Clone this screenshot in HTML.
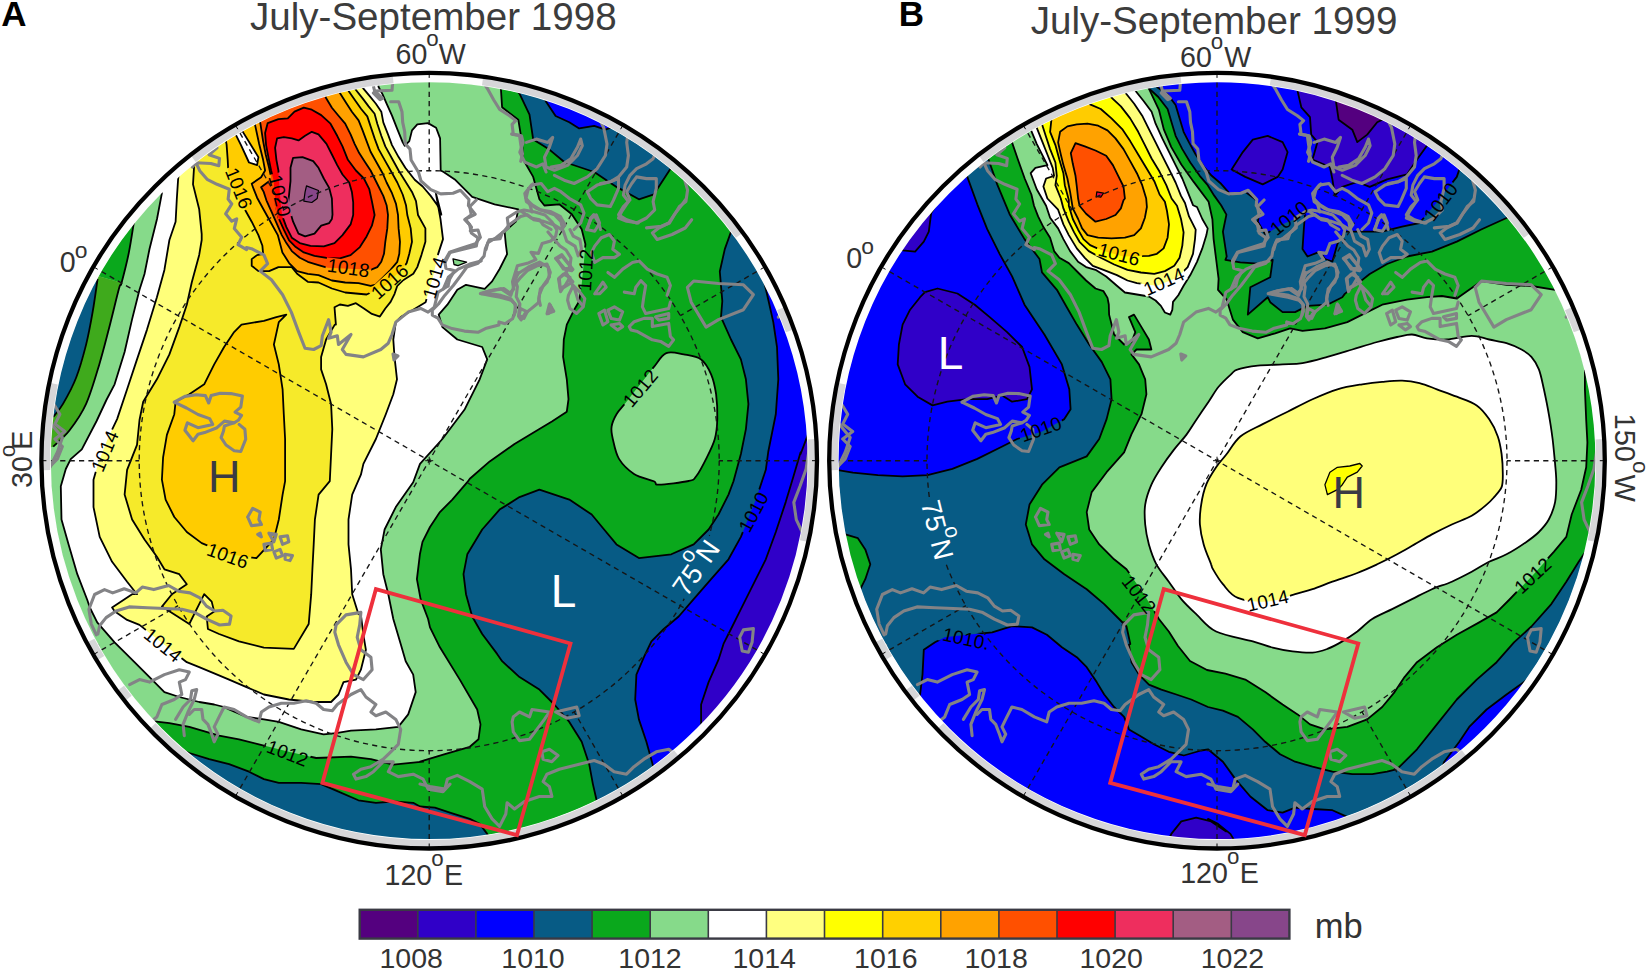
<!DOCTYPE html>
<html><head><meta charset="utf-8"><title>SLP July-September 1998 / 1999</title>
<style>html,body{margin:0;padding:0;background:#fff}svg{display:block}text{font-family:"Liberation Sans",Arial,Helvetica,sans-serif}</style></head><body>
<svg width="1650" height="973" viewBox="0 0 1650 973">
<defs>
<clipPath id="clipA"><circle cx="429.2" cy="460.7" r="379"/></clipPath>
<clipPath id="clipoA"><circle cx="429.2" cy="460.7" r="387.8"/></clipPath>
<clipPath id="clipB"><circle cx="1217" cy="460.7" r="379"/></clipPath>
<clipPath id="clipoB"><circle cx="1217" cy="460.7" r="387.8"/></clipPath>
</defs>
<rect width="1650" height="973" fill="#fff"/>
<mask id="mkA" maskUnits="userSpaceOnUse" x="29.2" y="60.7" width="800" height="800"><rect x="29.2" y="60.7" width="800" height="800" fill="#fff"/><g fill="#000">
<rect x="205.1" y="548.1" width="45.4" height="15" transform="rotate(20 227.8 555.6)"/>
<rect x="82" y="443.5" width="45.4" height="15" transform="rotate(-67 104.7 451)"/>
<rect x="140.4" y="637.3" width="45.4" height="15" transform="rotate(39 163.1 644.8)"/>
<rect x="264.8" y="745.5" width="45.4" height="15" transform="rotate(21 287.5 753)"/>
<rect x="216.3" y="180.6" width="45.4" height="15" transform="rotate(68 239 188.1)"/>
<rect x="257.3" y="188.1" width="45.4" height="15" transform="rotate(76 280 195.6)"/>
<rect x="325.8" y="260.2" width="45.4" height="15" transform="rotate(8 348.5 267.7)"/>
<rect x="366.8" y="273.9" width="45.4" height="15" transform="rotate(-42 389.5 281.4)"/>
<rect x="411.6" y="270.2" width="45.4" height="15" transform="rotate(-74 434.3 277.7)"/>
<rect x="562.7" y="262.7" width="45.4" height="15" transform="rotate(-87 585.4 270.2)"/>
<rect x="617.5" y="380.5" width="45.4" height="15" transform="rotate(-50 640.2 388)"/>
<rect x="730.7" y="504.5" width="45.4" height="15" transform="rotate(-62 753.4 512)"/>
</g></mask>
<mask id="mgA" maskUnits="userSpaceOnUse" x="29.2" y="60.7" width="800" height="800"><rect x="29.2" y="60.7" width="800" height="800" fill="#fff"/><g fill="#000">
<rect x="663.2" y="554.8" width="66" height="24" transform="rotate(-55 696.2 566.8)"/>
</g></mask>
<g clip-path="url(#clipA)">
<rect x="29.2" y="60.7" width="800" height="800" fill="#0aa81c"/>
<path d="M500.8,60 500.9,88.6 502.1,107.3 518.3,119.7 522,142.1 523.2,159.5 533.2,176.9 539.4,199.3 544.4,205.5 559.3,204.3 571.8,214.2 581.7,229.2 585.4,244.1 584.2,259 581.7,283.9 579.2,301.2 574.2,309.7 566.8,324.6 563.8,339.5 563.1,356.9 566.8,379.3 568.5,399.2 566.8,411.7 551.9,421.6 539.4,429.1 514.5,444 489.7,461.4 469.8,478.8 467.3,482.2 452.3,499.6 439.9,512.1 430,527 422.5,541.9 419.9,554.3 416.9,579.2 420.6,599.1 428.1,619 430,627.4 439.9,647.3 459.8,679.6 477.2,709.5 480.5,724.4 478.5,739.3 469.8,746.8 444.9,754.2 420,761.7 423.1,761.7 393.3,764.7 370.9,759.2 351,756.7 316.2,758 288.8,751.8 258.9,744.3 239,739.3 219.1,735.6 189.3,726.9 169.4,723.1 154.4,721.4 139.5,719.4 100,760 0,700 0,60Z" fill="#86da8a"/>
<path d="M666.3,353.2C671.3,351.1 677.9,353.4 683.7,354.4C689.5,355.5 696.6,356.1 701.1,359.4C705.7,362.7 708.6,368.5 711.1,374.3C713.6,380.1 715,386.8 716.1,394.2C717.1,401.7 717.5,411.7 717.3,419.1C717.1,426.6 716.7,432.4 714.8,439C712.9,445.7 709.2,452.7 706.1,458.9C703,465.2 699.1,472.7 696.2,476.3C693.3,480 694.9,479.6 688.7,481C682.5,482.3 664.6,484.6 658.8,484.7C653,484.7 658,483.1 653.9,481.3C649.7,479.5 639.8,477.6 634,473.9C628.2,470.1 622.6,464.7 619,458.9C615.5,453.1 614.1,444.4 612.8,439C611.6,433.6 610.9,430.7 611.6,426.6C612.2,422.4 614.1,418.3 616.5,414.2C619,410 622.6,406.7 626.5,401.7C630.4,396.7 635.6,390.1 640.2,384.3C644.7,378.5 649.5,372.1 653.9,366.9C658.2,361.7 661.3,355.3 666.3,353.2Z" fill="#86da8a"/>
<path d="M133.8,222.8 128.9,252.4 121.6,282.7 96,275.5 80,266 90,240 110,212Z" fill="#0aa81c"/>
<path d="M96,275.5 121.6,282.7 119,288.6 109.1,328.1 99.3,364.4 86.1,403.9 69.6,430.2 53.2,446.7 40,450 40,418 53.2,417 63,403.9 76.2,377.5 86.1,344.6 92.7,311.7 97.6,278.8Z" fill="#3faa1c"/>
<path d="M97.6,278.8 92.7,311.7 86.1,344.6 76.2,377.5 63,403.9 53.2,417 40,420 40,300 80,270Z" fill="#075b85"/>
<path d="M377.3,79.7 378.6,87 382.6,94.4 386.6,103.7 392,115.7 397.3,129.1 402.7,142.4 404.7,145.8 409.3,141.1 412,130.4 417.3,124.4 428,123.1 436.1,127.7 440.1,138.4 440.7,170.5 443.6,172 454.8,179.4 472.2,196.8 494.6,204.3 518.3,209.3 515.8,221.7 504.6,231.7 505.8,244.1 507.1,254.1 499.6,269 492.1,281.4 484.7,288.9 466,284.8 457.3,289.8 447.4,304.7 438.7,314.6 442.4,327.1 457.3,339.5 482.2,347 487.2,359.4 479.7,379.3 464.8,409.2 442.4,439 420,463.9 413.2,482.2 395.8,507.1 384.6,529.5 380.8,549.4 383.3,574.2 388.3,594.2 393.3,619 400.7,643.9 405.7,661.2 413.2,674.6 415.7,692.1 408.2,714.4 398.3,726.9 375.9,729.4 351,730.6 336.1,733.1 323.6,734.3 301.2,729.4 278.8,721.9 263.9,719.4 246.5,716.9 229.1,709.5 224.1,707 214.2,704.5 199.2,702 179.3,697 164.4,692.1 152,679.6 134.5,662.2 114.6,642.3 97.2,622.4 89.8,607.5 87.3,600 77.3,574.2 68.6,544.4 61.5,519.6 60.8,486.3 65.8,469 70.7,459.2 81.8,449.3 96.6,421 106.4,400 114.6,384.3 124.6,352 132,319.6 139.5,289.8 144.5,274 149.5,249 157,219 161.9,193.1 150,170 250,60 378,60Z" fill="#ffffff"/>
<path d="M359.9,81 362.6,87.7 369.3,95.7 375.9,103.7 381.3,111.7 383.3,122.4 388,134.4 392,145.1 398.6,157.1 405.3,167.8 414.7,179.8 422.7,186.5 430.7,195.9 437.4,205.2 441.4,214.6 435.6,191.9 440.5,219.2 443,239.1 438.1,254.1 433.1,276.4 425.6,302.2 413.2,309.7 400.7,317.1 395.8,322.1 393.3,339.5 394.5,356.9 397,379.3 393.3,394.2 385.8,414.2 375.9,439 363.4,463.9 360.9,474.7 352.2,494.6 348.5,519.5 348.5,544.4 351,569.3 352.2,594.2 358.4,614.1 360.9,614.9 363.4,634.8 365.9,649.8 360.9,669.7 356,679.6 343.5,682.1 338.5,694.5 331.1,702 313.7,702 288.8,699.5 263.9,694.5 246.5,687.1 229.1,679.6 214.2,673.4 199.2,667.2 186.8,662.2 164.4,644.8 139.5,624.9 127.1,619.9 114.6,611.2 112.1,607.5 132.1,594.2 137,594.2 127.1,581.7 112.1,561.8 99.7,536.9 93.5,507.1 93.5,479.7 98.5,462.3 107.2,439.9 117.1,419.1 127.1,389.3 137,359.4 147,329.6 156.9,297.2 164.4,269.9 169.4,240 175.6,221.7 176.8,199.3 178.1,179.4 179.3,169.5 200,60 362,60Z" fill="#ffff7a"/>
<path d="M353.2,82.3 355.2,89 362.6,98.4 368.6,106.4 374.6,113.7 377.3,123.7 381.3,135.8 385.3,146.4 392,158.5 398.6,170.5 405.3,181.2 412,191.9 416,201.2 418,215 425.4,228.4 425.4,241.8 421.4,255.1 417.3,267.1 413.3,273.8 402.7,280.5 397.3,285.8 394.6,293.8 390.6,301.9 385.3,308.5 379.9,316.6 371.9,313.9 363.9,308.5 355.9,303.2 347.9,305.9 339.9,304.5 334.5,307.2 335.9,324.6 334.8,324.6 326.1,339.5 321.1,356.9 321.1,369.4 326.1,384.3 331.1,404.2 332.3,429.1 331.1,454 329.8,481.2 318.6,494.6 314.9,519.5 313.7,544.4 312.4,569.3 311.2,594.2 308.7,624 293.8,648.9 263.9,647.6 239,641.4 219.1,634 207.9,629 206.7,616.5 214.2,611.6 211.7,601.6 204.2,594.2 199.2,604.1 189.3,624 161.9,606.6 171.9,594.2 186.8,584.2 179.3,574.2 164.4,569.3 156.9,556.8 144.5,539.4 132.1,519.5 124.6,494.6 127.1,469.8 137,444.9 139.5,420 143.2,401.7 156.9,379.3 169.4,354.4 179.3,327.1 186.8,304.7 191.8,282.3 199.2,254.9 201.7,240 201.7,234.2 199.2,209.3 193,184.4 194.2,164.5 195.5,154.5 230,60 350,60Z" fill="#f6ea2a"/>
<path d="M286.3,314.6 278.8,322.1 273.9,344.5 278.8,364.4 282.6,389.3 283.8,414.2 285.1,439 285.1,463.9 285.1,481.2 282.6,494.6 278.8,519.5 273.9,539.4 256.4,558.1 229.1,554.3 201.7,543.1 186.8,532 174.3,517 165.6,499.6 161.9,479.7 163.1,457.3 166.9,434.9 174.3,414.2 175.6,401.7 189.3,394.2 204.2,384.3 214.2,364.4 224.1,347 234.1,332.1 241.5,324.6 263.9,320.9 276.3,317.1Z" fill="#ffcc00"/>
<path d="M345.9,83.7 348.6,91 355.2,100.4 361.2,109 367.3,116.4 370.6,126.4 374.6,138.4 378.6,149.1 385.3,161.1 391.3,171.8 397.3,182.5 402.7,194.5 406,205.2 407.3,215 410.7,228.4 412,241.8 409.3,253.8 406.7,263.1 404,267.1 385.3,285.8 366.6,294.5 345.2,292.5 331.9,288.5 318.5,282.5 307.8,281.8 297.1,273.8 291.8,267.1 278.4,267.1 269.1,271.1 258.4,271.1 251.7,265.8 251.7,259.1 257.1,255.1 263.1,253.8 262.4,245.8 258.4,235.1 251.7,221.7 245,209.7 238.4,198.5 233,186.5 228.3,171.8 227.7,159.8 226.6,144.6 225,135.8 222.3,125.1 250,90Z" fill="#ffcc00"/>
<path d="M337.2,85 339.9,93 345.9,102.4 351.9,111.7 358.6,120.4 362.6,130.4 366.6,141.1 370.6,151.8 377.3,163.8 382.6,173.2 386.6,182.5 392,193.2 396,203.9 398,215 398.6,228.4 400,241.8 399.3,253.8 397.3,261.8 390.6,269.8 382.6,277.8 375.9,284.5 370.6,285.8 358.6,283.2 345.2,282.5 331.9,280.5 318.5,275.1 307.8,273.8 297.1,271.1 289.1,263.1 282.4,252.4 277.8,235.1 270.4,221.7 263.7,209.7 257.1,197.7 253.7,189.2 251.7,183.8 261.1,177.2 265.1,170.5 263.1,159.8 259.1,143.8 255.1,125.1 253.1,117.1Z" fill="#ffa200"/>
<path d="M323.8,90.3 325.9,97.7 331.9,107.7 338.5,115.7 345.2,123.7 350.6,134.4 354.6,143.8 359.2,153.1 365.3,162.5 370.6,170.5 374.6,178.5 378.6,186.5 383.3,195.9 386.6,205.2 388,215 387.3,228.4 385.3,241.8 384,253.8 381.3,261.8 377.3,267.1 370.6,269.8 327.9,267.8 318.5,265.1 307.8,261.8 299.8,257.8 291.8,251.1 286.4,243.1 281.8,235.1 277.1,224.4 271.8,212.4 266.4,200.3 263.7,191.9 261.1,187.2 269.1,181.2 271.1,177.2 269.1,167.8 265.7,154.5 263.1,141.1 260.4,123.7 258.4,115.7Z" fill="#ff5000"/>
<path d="M267.7,123.1 278.4,119.1 287.8,118.4 294.5,111.7 303.8,107.7 311.8,109.7 321.2,115.1 330.5,123.7 337.2,135.8 342.5,146.4 347.9,159.8 355.9,170.5 363.9,178.5 369.3,189.2 371.9,201.2 374.6,215 371.9,225.7 366.6,236.4 359.9,247.1 350.6,255.1 339.9,258.4 326.5,257.8 314.5,255.8 303.8,252.4 295.8,247.1 289.1,240.4 283.8,229.7 278.4,217.7 275.8,205.2 274.4,191.9 273.8,181.2 271.1,170.5 268.4,157.1 266.1,145.1 265.1,133.1Z" fill="#ff0000"/>
<path d="M277.1,138.4 283.8,137.1 291.8,138.4 298.5,140.4 305.1,135.8 311.8,131.8 318.5,134.4 326.5,143.8 331.9,154.5 337.2,165.1 342.5,174.5 349.2,182.5 351.9,191.9 353.2,202.5 353.2,215 350.6,224.4 342.5,235.1 334.5,243.1 323.8,246.4 310.5,245.8 299.8,243.1 291.8,237.7 286.4,227.1 282.4,216.4 281.1,207.9 279.8,191.9 278.4,170.5 276.4,159.8 275.1,147.8Z" fill="#ee2e5e"/>
<path d="M293.1,157.8 302.5,157.1 313.2,161.1 318.5,167.8 323.8,178.5 329.2,187.9 331.9,198.5 332.5,214.6 331.9,219 329.2,223.1 321.2,225.7 314.5,233.7 305.1,236.4 298.5,233.7 293.1,221.7 289.1,208.4 287.8,205.2 289.1,194.5 290.5,181.2 290.5,167.8Z" fill="#a35d83"/>
<path d="M306.5,185.9 318.5,190.5 317.2,198.5 311.8,202.5 303.8,201.2 305.1,191.9Z" fill="#87468a"/>
<path d="M237,133.1 242.4,131.1 258.4,157.1 257.1,165.1 249,162.5 241,145.1 233,129.1 238.4,125.1Z" fill="#ffffff"/>
<path d="M453,258.8 466.6,262.2 458,265.6 454,264.5Z" fill="#86da8a"/>
<path d="M470,40 519.5,93.6 529.5,114.7 533.2,139.6 549.4,149.6 564.3,162 594.2,172 616.5,186.9 638.9,199.3 653.9,194.3 670,169.5 720,100Z" fill="#075b85"/>
<path d="M539.4,84.9 545.6,101 555.6,116 569.3,122.2 579.2,128.4 594.2,125.9 605.3,129.7 619,124.7 594.2,84.9Z" fill="#0000ff"/>
<path d="M743.4,219.2 731,231.7 724.8,249.1 719.8,271.5 722.3,301.2 721,317.1 731,339.5 740.9,359.4 745.9,379.3 748.4,404.2 745.9,429.1 740.9,454 733.5,481.3 728.5,494.6 718.5,514.5 708.6,529.5 693.7,544.4 671.3,554.3 638.9,558.1 616.5,544.4 604.1,529.5 591.7,514.5 569.3,499.6 539.4,489.7 519.5,497.1 499.6,509.6 482.2,529.5 467.3,554.3 463.5,574.2 466,594.2 472.2,616.5 482.2,634 497.1,653.9 502.1,661.2 519.5,677.1 539.4,689.6 554.3,704.5 569.3,721.9 581.7,741.8 589.2,764.2 592.9,784.1 596.6,800.3 599.1,814 830,860 860,460 830,200Z" fill="#075b85"/>
<path d="M773.3,278.9 764.6,283.9 768.3,299.7 773.3,322.1 777,347 778.3,379.3 775.8,414.2 768.3,451.5 765.8,469.8 755.9,499.6 740.9,536.9 728.5,559.3 711.1,579.2 693.7,599.1 678.7,616.5 663.8,629 651.4,641.4 643.9,657.2 636.4,674.6 635.2,699.5 638.9,719.4 646.4,741.8 652.6,764.2 656.3,779.1 830,800 860,460 830,280Z" fill="#0000ff"/>
<path d="M818.1,414.2 808.1,434.1 800.6,454 800.6,452.3 793.2,477.2 785.7,502.1 775.8,532 765.8,559.3 753.4,584.2 740.9,609.1 731,629 723.5,643.9 718.5,659.7 708.6,682.1 701.1,704.5 701.1,724.4 702.4,739.3 830,700 860,460Z" fill="#3000c8"/>
<path d="M174.3,746.8 189.3,753 209.2,759.2 229.1,764.2 249,771.7 263.9,779.1 278.8,782.9 301.2,782.9 321.1,784.1 338.5,791.6 358.4,800.3 375.9,802.8 393.3,801.5 413.2,802.8 420,806.5 434.9,807.7 449.9,812.7 469.8,818.9 479.7,823.9 487.2,833.9 492.1,846.3 430,900 200,860Z" fill="#075b85"/>
<g mask="url(#mkA)" fill="none" stroke="#000" stroke-width="1.8" stroke-linejoin="round">
<path d="M500.8,60 500.9,88.6 502.1,107.3 518.3,119.7 522,142.1 523.2,159.5 533.2,176.9 539.4,199.3 544.4,205.5 559.3,204.3 571.8,214.2 581.7,229.2 585.4,244.1 584.2,259 581.7,283.9 579.2,301.2 574.2,309.7 566.8,324.6 563.8,339.5 563.1,356.9 566.8,379.3 568.5,399.2 566.8,411.7 551.9,421.6 539.4,429.1 514.5,444 489.7,461.4 469.8,478.8 467.3,482.2 452.3,499.6 439.9,512.1 430,527 422.5,541.9 419.9,554.3 416.9,579.2 420.6,599.1 428.1,619 430,627.4 439.9,647.3 459.8,679.6 477.2,709.5 480.5,724.4 478.5,739.3 469.8,746.8 444.9,754.2 420,761.7 423.1,761.7 393.3,764.7 370.9,759.2 351,756.7 316.2,758 288.8,751.8 258.9,744.3 239,739.3 219.1,735.6 189.3,726.9 169.4,723.1 154.4,721.4 139.5,719.4 100,760 0,700 0,60Z"/>
<path d="M666.3,353.2C671.3,351.1 677.9,353.4 683.7,354.4C689.5,355.5 696.6,356.1 701.1,359.4C705.7,362.7 708.6,368.5 711.1,374.3C713.6,380.1 715,386.8 716.1,394.2C717.1,401.7 717.5,411.7 717.3,419.1C717.1,426.6 716.7,432.4 714.8,439C712.9,445.7 709.2,452.7 706.1,458.9C703,465.2 699.1,472.7 696.2,476.3C693.3,480 694.9,479.6 688.7,481C682.5,482.3 664.6,484.6 658.8,484.7C653,484.7 658,483.1 653.9,481.3C649.7,479.5 639.8,477.6 634,473.9C628.2,470.1 622.6,464.7 619,458.9C615.5,453.1 614.1,444.4 612.8,439C611.6,433.6 610.9,430.7 611.6,426.6C612.2,422.4 614.1,418.3 616.5,414.2C619,410 622.6,406.7 626.5,401.7C630.4,396.7 635.6,390.1 640.2,384.3C644.7,378.5 649.5,372.1 653.9,366.9C658.2,361.7 661.3,355.3 666.3,353.2Z"/>
<path d="M133.8,222.8C133,227.7 130.9,242.4 128.9,252.4C126.9,262.4 123.2,276.7 121.6,282.7C119.9,288.7 121.1,281 119,288.6C116.9,296.2 112.4,315.5 109.1,328.1C105.8,340.7 103.1,351.8 99.3,364.4C95.5,377 91,392.9 86.1,403.9C81.1,414.9 75.1,423.1 69.6,430.2C64.1,437.3 55.9,443.9 53.2,446.7"/>
<path d="M97.6,278.8C96.8,284.3 94.6,300.7 92.7,311.7C90.8,322.7 88.8,333.6 86.1,344.6C83.3,355.6 80,367.6 76.2,377.5C72.4,387.4 66.8,397.3 63,403.9C59.2,410.5 54.8,414.8 53.2,417"/>
<path d="M377.3,79.7 378.6,87 382.6,94.4 386.6,103.7 392,115.7 397.3,129.1 402.7,142.4 404.7,145.8 409.3,141.1 412,130.4 417.3,124.4 428,123.1 436.1,127.7 440.1,138.4 440.7,170.5 443.6,172 454.8,179.4 472.2,196.8 494.6,204.3 518.3,209.3 515.8,221.7 504.6,231.7 505.8,244.1 507.1,254.1 499.6,269 492.1,281.4 484.7,288.9 466,284.8 457.3,289.8 447.4,304.7 438.7,314.6 442.4,327.1 457.3,339.5 482.2,347 487.2,359.4 479.7,379.3 464.8,409.2 442.4,439 420,463.9 413.2,482.2 395.8,507.1 384.6,529.5 380.8,549.4 383.3,574.2 388.3,594.2 393.3,619 400.7,643.9 405.7,661.2 413.2,674.6 415.7,692.1 408.2,714.4 398.3,726.9 375.9,729.4 351,730.6 336.1,733.1 323.6,734.3 301.2,729.4 278.8,721.9 263.9,719.4 246.5,716.9 229.1,709.5 224.1,707 214.2,704.5 199.2,702 179.3,697 164.4,692.1 152,679.6 134.5,662.2 114.6,642.3 97.2,622.4 89.8,607.5 87.3,600 77.3,574.2 68.6,544.4 61.5,519.6 60.8,486.3 65.8,469 70.7,459.2 81.8,449.3 96.6,421 106.4,400 114.6,384.3 124.6,352 132,319.6 139.5,289.8 144.5,274 149.5,249 157,219 161.9,193.1 150,170 250,60 378,60Z"/>
<path d="M359.9,81 362.6,87.7 369.3,95.7 375.9,103.7 381.3,111.7 383.3,122.4 388,134.4 392,145.1 398.6,157.1 405.3,167.8 414.7,179.8 422.7,186.5 430.7,195.9 437.4,205.2 441.4,214.6 435.6,191.9 440.5,219.2 443,239.1 438.1,254.1 433.1,276.4 425.6,302.2 413.2,309.7 400.7,317.1 395.8,322.1 393.3,339.5 394.5,356.9 397,379.3 393.3,394.2 385.8,414.2 375.9,439 363.4,463.9 360.9,474.7 352.2,494.6 348.5,519.5 348.5,544.4 351,569.3 352.2,594.2 358.4,614.1 360.9,614.9 363.4,634.8 365.9,649.8 360.9,669.7 356,679.6 343.5,682.1 338.5,694.5 331.1,702 313.7,702 288.8,699.5 263.9,694.5 246.5,687.1 229.1,679.6 214.2,673.4 199.2,667.2 186.8,662.2 164.4,644.8 139.5,624.9 127.1,619.9 114.6,611.2 112.1,607.5 132.1,594.2 137,594.2 127.1,581.7 112.1,561.8 99.7,536.9 93.5,507.1 93.5,479.7 98.5,462.3 107.2,439.9 117.1,419.1 127.1,389.3 137,359.4 147,329.6 156.9,297.2 164.4,269.9 169.4,240 175.6,221.7 176.8,199.3 178.1,179.4 179.3,169.5 200,60 362,60Z"/>
<path d="M353.2,82.3 355.2,89 362.6,98.4 368.6,106.4 374.6,113.7 377.3,123.7 381.3,135.8 385.3,146.4 392,158.5 398.6,170.5 405.3,181.2 412,191.9 416,201.2 418,215 425.4,228.4 425.4,241.8 421.4,255.1 417.3,267.1 413.3,273.8 402.7,280.5 397.3,285.8 394.6,293.8 390.6,301.9 385.3,308.5 379.9,316.6 371.9,313.9 363.9,308.5 355.9,303.2 347.9,305.9 339.9,304.5 334.5,307.2 335.9,324.6 334.8,324.6 326.1,339.5 321.1,356.9 321.1,369.4 326.1,384.3 331.1,404.2 332.3,429.1 331.1,454 329.8,481.2 318.6,494.6 314.9,519.5 313.7,544.4 312.4,569.3 311.2,594.2 308.7,624 293.8,648.9 263.9,647.6 239,641.4 219.1,634 207.9,629 206.7,616.5 214.2,611.6 211.7,601.6 204.2,594.2 199.2,604.1 189.3,624 161.9,606.6 171.9,594.2 186.8,584.2 179.3,574.2 164.4,569.3 156.9,556.8 144.5,539.4 132.1,519.5 124.6,494.6 127.1,469.8 137,444.9 139.5,420 143.2,401.7 156.9,379.3 169.4,354.4 179.3,327.1 186.8,304.7 191.8,282.3 199.2,254.9 201.7,240 201.7,234.2 199.2,209.3 193,184.4 194.2,164.5 195.5,154.5 230,60 350,60Z"/>
<path d="M286.3,314.6 278.8,322.1 273.9,344.5 278.8,364.4 282.6,389.3 283.8,414.2 285.1,439 285.1,463.9 285.1,481.2 282.6,494.6 278.8,519.5 273.9,539.4 256.4,558.1 229.1,554.3 201.7,543.1 186.8,532 174.3,517 165.6,499.6 161.9,479.7 163.1,457.3 166.9,434.9 174.3,414.2 175.6,401.7 189.3,394.2 204.2,384.3 214.2,364.4 224.1,347 234.1,332.1 241.5,324.6 263.9,320.9 276.3,317.1Z"/>
<path d="M345.9,83.7 348.6,91 355.2,100.4 361.2,109 367.3,116.4 370.6,126.4 374.6,138.4 378.6,149.1 385.3,161.1 391.3,171.8 397.3,182.5 402.7,194.5 406,205.2 407.3,215 410.7,228.4 412,241.8 409.3,253.8 406.7,263.1 404,267.1 385.3,285.8 366.6,294.5 345.2,292.5 331.9,288.5 318.5,282.5 307.8,281.8 297.1,273.8 291.8,267.1 278.4,267.1 269.1,271.1 258.4,271.1 251.7,265.8 251.7,259.1 257.1,255.1 263.1,253.8 262.4,245.8 258.4,235.1 251.7,221.7 245,209.7 238.4,198.5 233,186.5 228.3,171.8 227.7,159.8 226.6,144.6 225,135.8 222.3,125.1 250,90Z"/>
<path d="M337.2,85 339.9,93 345.9,102.4 351.9,111.7 358.6,120.4 362.6,130.4 366.6,141.1 370.6,151.8 377.3,163.8 382.6,173.2 386.6,182.5 392,193.2 396,203.9 398,215 398.6,228.4 400,241.8 399.3,253.8 397.3,261.8 390.6,269.8 382.6,277.8 375.9,284.5 370.6,285.8 358.6,283.2 345.2,282.5 331.9,280.5 318.5,275.1 307.8,273.8 297.1,271.1 289.1,263.1 282.4,252.4 277.8,235.1 270.4,221.7 263.7,209.7 257.1,197.7 253.7,189.2 251.7,183.8 261.1,177.2 265.1,170.5 263.1,159.8 259.1,143.8 255.1,125.1 253.1,117.1Z"/>
<path d="M323.8,90.3 325.9,97.7 331.9,107.7 338.5,115.7 345.2,123.7 350.6,134.4 354.6,143.8 359.2,153.1 365.3,162.5 370.6,170.5 374.6,178.5 378.6,186.5 383.3,195.9 386.6,205.2 388,215 387.3,228.4 385.3,241.8 384,253.8 381.3,261.8 377.3,267.1 370.6,269.8 327.9,267.8 318.5,265.1 307.8,261.8 299.8,257.8 291.8,251.1 286.4,243.1 281.8,235.1 277.1,224.4 271.8,212.4 266.4,200.3 263.7,191.9 261.1,187.2 269.1,181.2 271.1,177.2 269.1,167.8 265.7,154.5 263.1,141.1 260.4,123.7 258.4,115.7Z"/>
<path d="M267.7,123.1 278.4,119.1 287.8,118.4 294.5,111.7 303.8,107.7 311.8,109.7 321.2,115.1 330.5,123.7 337.2,135.8 342.5,146.4 347.9,159.8 355.9,170.5 363.9,178.5 369.3,189.2 371.9,201.2 374.6,215 371.9,225.7 366.6,236.4 359.9,247.1 350.6,255.1 339.9,258.4 326.5,257.8 314.5,255.8 303.8,252.4 295.8,247.1 289.1,240.4 283.8,229.7 278.4,217.7 275.8,205.2 274.4,191.9 273.8,181.2 271.1,170.5 268.4,157.1 266.1,145.1 265.1,133.1Z"/>
<path d="M277.1,138.4 283.8,137.1 291.8,138.4 298.5,140.4 305.1,135.8 311.8,131.8 318.5,134.4 326.5,143.8 331.9,154.5 337.2,165.1 342.5,174.5 349.2,182.5 351.9,191.9 353.2,202.5 353.2,215 350.6,224.4 342.5,235.1 334.5,243.1 323.8,246.4 310.5,245.8 299.8,243.1 291.8,237.7 286.4,227.1 282.4,216.4 281.1,207.9 279.8,191.9 278.4,170.5 276.4,159.8 275.1,147.8Z"/>
<path d="M293.1,157.8 302.5,157.1 313.2,161.1 318.5,167.8 323.8,178.5 329.2,187.9 331.9,198.5 332.5,214.6 331.9,219 329.2,223.1 321.2,225.7 314.5,233.7 305.1,236.4 298.5,233.7 293.1,221.7 289.1,208.4 287.8,205.2 289.1,194.5 290.5,181.2 290.5,167.8Z"/>
<path d="M306.5,185.9 318.5,190.5 317.2,198.5 311.8,202.5 303.8,201.2 305.1,191.9Z" stroke-width="1.2"/>
<path d="M237,133.1 242.4,131.1 258.4,157.1 257.1,165.1 249,162.5 241,145.1 233,129.1 238.4,125.1Z"/>
<path d="M453,258.8 466.6,262.2 458,265.6 454,264.5Z" stroke-width="1.3"/>
<path d="M470,40 519.5,93.6 529.5,114.7 533.2,139.6 549.4,149.6 564.3,162 594.2,172 616.5,186.9 638.9,199.3 653.9,194.3 670,169.5 720,100Z"/>
<path d="M539.4,84.9 545.6,101 555.6,116 569.3,122.2 579.2,128.4 594.2,125.9 605.3,129.7 619,124.7 594.2,84.9Z"/>
<path d="M743.4,219.2 731,231.7 724.8,249.1 719.8,271.5 722.3,301.2 721,317.1 731,339.5 740.9,359.4 745.9,379.3 748.4,404.2 745.9,429.1 740.9,454 733.5,481.3 728.5,494.6 718.5,514.5 708.6,529.5 693.7,544.4 671.3,554.3 638.9,558.1 616.5,544.4 604.1,529.5 591.7,514.5 569.3,499.6 539.4,489.7 519.5,497.1 499.6,509.6 482.2,529.5 467.3,554.3 463.5,574.2 466,594.2 472.2,616.5 482.2,634 497.1,653.9 502.1,661.2 519.5,677.1 539.4,689.6 554.3,704.5 569.3,721.9 581.7,741.8 589.2,764.2 592.9,784.1 596.6,800.3 599.1,814 830,860 860,460 830,200Z"/>
<path d="M773.3,278.9 764.6,283.9 768.3,299.7 773.3,322.1 777,347 778.3,379.3 775.8,414.2 768.3,451.5 765.8,469.8 755.9,499.6 740.9,536.9 728.5,559.3 711.1,579.2 693.7,599.1 678.7,616.5 663.8,629 651.4,641.4 643.9,657.2 636.4,674.6 635.2,699.5 638.9,719.4 646.4,741.8 652.6,764.2 656.3,779.1 830,800 860,460 830,280Z"/>
<path d="M818.1,414.2 808.1,434.1 800.6,454 800.6,452.3 793.2,477.2 785.7,502.1 775.8,532 765.8,559.3 753.4,584.2 740.9,609.1 731,629 723.5,643.9 718.5,659.7 708.6,682.1 701.1,704.5 701.1,724.4 702.4,739.3 830,700 860,460Z"/>
<path d="M174.3,746.8 189.3,753 209.2,759.2 229.1,764.2 249,771.7 263.9,779.1 278.8,782.9 301.2,782.9 321.1,784.1 338.5,791.6 358.4,800.3 375.9,802.8 393.3,801.5 413.2,802.8 420,806.5 434.9,807.7 449.9,812.7 469.8,818.9 479.7,823.9 487.2,833.9 492.1,846.3 430,900 200,860Z"/>
</g>
<g mask="url(#mgA)" fill="none" stroke="#151515" stroke-width="1.35" stroke-dasharray="5.2 4.2">
<circle cx="429.2" cy="460.7" r="290"/>
<path d="M817,460.7 L719.2,460.7"/>
<path d="M765,654.6 L429.2,460.7"/>
<path d="M623.1,796.5 L574.2,711.8"/>
<path d="M429.2,848.5 L429.2,750.7"/>
<path d="M235.3,796.5 L429.2,460.7"/>
<path d="M93.4,654.6 L178.1,605.7"/>
<path d="M41.4,460.7 L139.2,460.7"/>
<path d="M93.4,266.8 L429.2,460.7"/>
<path d="M235.3,124.9 L284.2,209.6"/>
<path d="M429.2,72.9 L429.2,170.7"/>
<path d="M623.1,124.9 L429.2,460.7"/>
<path d="M765,266.8 L680.3,315.7"/>
</g>
<path d="M425.2,460.7 h8 M429.2,456.7 v8" stroke="#111" stroke-width="1" fill="none"/>
<g fill="none" stroke="#838386" stroke-width="3.1" stroke-linejoin="round" stroke-linecap="round" transform="translate(0,0)">
<path d="M213.9,137.4 217,147.9 209,154.7 219.5,158.4 218.8,165.8 210.8,163.5 196,162.7 199.7,170.7 207.1,179.3 217,184.3 229.3,189.2 228.1,199.1 231.8,204 225.6,213.8 231.8,221.2 236.7,218.8 234.3,228.6 241.7,237.3 238,244.7 246.6,249.6"/>
<path d="M196,162.7 192.3,167"/>
<path d="M246.5,247.5 251.5,248.7 263.9,254.9 267.6,263.6 260.2,271.1 271.4,279.8 282.6,294.7 291.3,312.1 298.7,332.1 305,348.2 313.7,349.5 321.1,345.7 322.4,335.8 328.6,319.6 331.1,332.1 328.6,338.3 337.3,335.8 338.5,344.5 351,334.5 342.3,349.5 346,354.4 363.4,356.9 380.8,349.5 388.3,343.2 392,334.5 395.8,322.1 408.2,312.1 420.6,308.4 428.1,312.1 434.3,307.2 438.1,292.2 448,286"/>
<path d="M393,354 398,356 394,360 393,354"/>
<path d="M393.3,75 392,90.3 374.6,91 372,80"/>
<path d="M374.6,91 382.6,98.4 380,99.7 373.3,93"/>
<path d="M390.6,101.7 398.7,101.7 402,111.7 402.7,122.4 404.7,131.8 405.3,143.8 410,149.1 411.1,160 418.5,172.3 421,181 430.8,189.6 440.7,193.9 453,193.3 460.4,190.2 469,199.5 468.4,205.6 475.2,214.3 465.4,219.2 471.5,227.2 470.3,230.9 478,230 480.4,237.4 475.5,243.6 460.7,248.5 449.6,252.2 444.7,260.8 445.9,268.2 454.5,270.7 449.6,279.3 448,286"/>
<path d="M517.1,211.8 507.3,218 508.5,227.8 502.3,232.7 500.1,238.6 489.1,239.9 485.4,248.5 484.1,255.9 478,263.3 466.9,267 460.7,275.6 453.3,285.5 444.7,295.4 438.5,304 432.3,310.1 432.3,315.1 437.9,318.2 442.2,324.9 452.1,328.6 464.4,331.1 478,332.3 485.4,328.6 498.9,324.9 498.9,321.9 505.1,323.7 512.5,318.8 515.6,311.4 515,304 511.2,300.3 500.1,297.2 490.3,295.4 480.4,293.5 489.1,291 503.8,288.6 510,292.9 513.7,289.2 512.5,281.8 517.4,265.8 527.3,263.3 535.9,259.6 531,252.2 538.4,253.4 542.1,243.6 550.7,241.1 555.6,236.2 556.9,230 552,222 545,215 535,212 524,210 517.1,211.8"/>
<path d="M518.6,273.2 528.5,267 539.6,262.1 548.2,267 549.5,276.9 543.3,285.5 539.6,294.1 538.4,302.7 531,308.9 524.8,313.8 521.1,320 518.6,316.3 519.9,304 516.2,296.6 517.4,286.7 514.9,279.3 518.6,273.2"/>
<path d="M555.6,258.4 561.8,254.7 572.9,269.5 564.3,268.2 555.6,258.4"/>
<path d="M559.3,278.1 565.5,273.2 572.9,281.8 563,288 560.6,291.7 559.3,278.1"/>
<path d="M549.5,304 553.8,311.4 547,313.8 549.5,304"/>
<path d="M481.2,78.7 487.4,88.6 493.6,99.7 499.7,109.5 509.6,115.7 515.8,120.6 512.1,124.3 513.3,134.2 519.5,135.4 520.7,144.1 522.5,153.9 520.7,161.3"/>
<path d="M548,232 553,238 560,246 566,250 571,258 570,266 566,272 570,280 575,290 578,300 583,306"/>
<path d="M533,184 528,190 526,198 530,205 532,212"/>
<path d="M511.6,134.1 521.5,135.8 523.1,142.4 519.8,152.2 524.8,162.1 536.3,167 542.9,163.8 546.1,172"/>
<path d="M526.4,142.4 536.3,139.1 547.8,142.4 552.7,137.4 549.4,147.3 544.5,157.2 546.1,167 554.4,170.3 567.5,165.4 577.4,155.5 582.3,145.7 580.7,139.1 577.4,147.3 570.8,158.8 560.9,165.4 551.1,167"/>
<path d="M547.8,94.7 551.1,98 564.2,101.2 584,107.8 597.1,114.4 603.7,127.6 607,144 605.4,155.5 597.1,168.7 587.3,176.9 574.1,183.5 564.2,180.2 554.4,175.3"/>
<path d="M628.4,130.9 626.7,142.4 628.4,155.5 626.7,167 618.5,176.9 610.3,181.8 600.4,183.5"/>
<path d="M656.3,150.6 653.1,158.8 646.5,163.8 636.6,168.7 630,175.3 625.1,185.1 623.4,195 628.4,201.6 621.8,211.4 618.5,218 626.7,221.3 638.2,223"/>
<path d="M587.3,191.7 597.1,185.1 610.3,181.8 618.5,178.6 618.5,188.4 613.6,199.9 610.3,206.5 597.1,204.9 590.6,198.3 587.3,191.7"/>
<path d="M636.6,176.9 646.5,178.6 656.3,178.6 656.3,188.4 653.1,201.6 654.7,209.8 646.5,218 636.6,223 626.7,219.7 618.5,214.7 623.4,206.5 630,199.9 626.7,191.7 631.7,183.5 636.6,176.9"/>
<path d="M574.1,229.5 580.7,223 584,213.1 580.7,204.9 569.2,198.3 560.9,191.7 554.4,188.4 547.8,191.7 541.2,183.5 531.3,185.1 524.8,193.4 526.4,201.6 536.3,208.2 544.5,211.4 554.4,214.7 560.9,221.3 562.6,229.5"/>
<path d="M679.4,168.7 684.3,178.6 687.6,190.1 685.9,201.6 679.4,206.5 674.4,214.7 669.5,223 661.3,226.2 646.5,227.9"/>
<path d="M521.5,211.4 531.3,218 539.6,219.7 542.9,224.6 551.1,229.5"/>
<path d="M587.3,229.5 590.6,218 593.8,214.7 598.8,223 600.4,229.5"/>
<path d="M443.4,288.8 448.3,277.3 458.2,269.1 469.7,264.1 481.2,260.9"/>
<path d="M445,262.5 450,252.6 463.1,249.3 476.3,246.1 477.9,237.8 471.3,232.9 469.7,224.7 464.8,219.7 471.3,214.8 469.7,206.6 476.3,200"/>
<path d="M486.1,249.3 487.8,242.8 496,237.8 504.2,231.2 509.2,224.7 520.7,216.4 527.3,214.8 533.8,219.7 543.7,221.4 553.6,224.7 561.8,229.6 565.1,224.7 560.2,216.4 550.3,211.5 540.4,209.9 532.2,204.9 527.3,200"/>
<path d="M519,315.1 520.7,308.6 527.3,311.8 524,318.4 519,315.1"/>
<path d="M514.1,285.5 520.7,277.3 527.3,270.7 537.1,265.8 547,264.1 550.3,272.4 547,282.2 540.4,288.8 538.8,298.7 540.4,305.3"/>
<path d="M517.4,272.4 514.1,285.5 510.8,295.4 500.9,288.8 491.1,290.5 481.2,293.8 491.1,293.8 500.9,295.4 510.8,298.7 515.8,305.3 514.1,315.1"/>
<path d="M556.9,259.2 561.8,255.9 570,265.8 571.7,270.7 563.4,269.1 556.9,259.2"/>
<path d="M558.5,278.9 563.4,274 570,277.3 565.1,285.5 560.2,288.8 558.5,278.9"/>
<path d="M563.4,231.2 566.7,241.1 575,246.1 578.2,255.9 581.5,249.3 579.9,239.5 573.3,236.2 570,229.6"/>
<path d="M591.4,252.6 594.7,246.1 601.3,237.8 609.5,234.5 614.4,241.1 612.8,249.3 619.4,254.3 614.4,257.6 602.9,257.6 594.7,262.5 591.4,252.6"/>
<path d="M586.5,229.6 591.4,218.1 596.3,214.8 599.6,223 594.7,231.2 586.5,229.6"/>
<path d="M691.7,219.7 685.2,228 672,234.5 657.2,239.5 652.3,232.9 658.8,228 668.7,223 675.3,213.2 681.9,204.9 685.2,200"/>
<path d="M568.4,295.4 573.3,285.5 579.9,292.1 584.8,298.7 583.2,306.9 576.6,313.5 570,308.6 567.6,300.3 568.4,295.4"/>
<path d="M594.7,293.8 602.9,282.2 606.2,287.2 599.6,293.8 594.7,293.8"/>
<path d="M607.9,272.4 614.4,277.3 622.7,269.1 632.5,262.5 639.1,260.9 647.3,269.1 657.2,274 667.1,277.3 670.4,285.5 667.1,295.4"/>
<path d="M624.3,292.1 634.2,293.8 635.8,287.2 640.8,280.6 645.7,285.5 644,295.4 642.4,306.9 645.7,313.5 668.7,308.6 670.4,302"/>
<path d="M598.8,313.5 604.6,310.2 607.9,321.7 602.9,325 598.8,313.5"/>
<path d="M607.9,310.2 614.4,306.9 622.7,311.8 619.4,320.1 611.1,318.4 607.9,310.2"/>
<path d="M611.1,325 619.4,323.4 622.7,326.6 617.7,329.9 611.1,325"/>
<path d="M629.2,326.6 634.2,321.7 644,318.4 652.3,318.4 652.3,326.6 668.7,323.4 670.4,336.5 673.6,339.8 668.7,346.4 660.5,341.4 652.3,339.8 637.5,331.6 630.9,329.9 629.2,326.6"/>
<path d="M655.6,316.8 668.7,313.5 668.7,318.4 658.8,320.1 655.6,316.8"/>
<path d="M550.3,305.3 551.9,310.2 548.6,313.5 550.3,305.3"/>
<path d="M174.2,402.2 184.9,396.4 196.4,394.8 205.4,395.6 208.7,403 211.2,395.6 220.2,393.2 230.9,393.6 242.4,396 240.8,407.1 235,412.1 241.6,415.4 238.3,420.3 234.2,422.8 224.4,421.1 217,427.7 204.6,432.6 198,434.3 193.1,440.8 184.9,430.2 187.4,422.8 198,427.7 212.8,424.4 209.6,418.6 198,414.5 186.5,408 174.2,402.2"/>
<path d="M234.2,422.8 229.3,424.4 224.4,426 223.5,431 221.1,437.6 226,445 234.2,450.7 240.8,451.5 245.7,439.2 244.9,429.3 239.1,424.4"/>
<path d="M247.7,517 252.7,508.3 260.2,512.1 258.9,519.5 261.4,524.5 251.5,525.7 247.7,517"/>
<path d="M257.7,534.4 260.2,533.2 261.4,536.9 257.7,534.4"/>
<path d="M268.9,533.2 276.3,534.4 273.9,541.9 268.9,533.2"/>
<path d="M280.1,536.9 287.5,535.7 288.8,541.9 282.6,544.4 280.1,536.9"/>
<path d="M263.9,544.4 271.4,543.1 272.6,549.4 265.2,550.6 263.9,544.4"/>
<path d="M273.9,551.9 280.1,549.4 282.6,555.6 276.3,558.1 273.9,551.9"/>
<path d="M285.1,554.3 292.5,555.6 290,560.6 285.1,559.3 285.1,554.3"/>
<path d="M96.3,634.8 91.3,624.1 88.9,609.3 94.6,594.5 104.5,589.6 112.7,592.9 124.2,588.8 135.8,592.9 142.3,587.1 153.8,589.6 168.6,585.5 178.5,591.2 190,592.9 199.9,597.8 206.5,606.1 214.7,611 222.9,610.2 231.1,615.9 229.5,624.1 219.6,625 206.5,619.2 195,612.6 181.8,609.3 165.4,608.5 147.3,607.7 129.2,606.9 116,611 106.1,617.6 99.6,625.8 97.9,634"/>
<path d="M91.3,643.9 97.9,645.5 96.3,655.4"/>
<path d="M47.5,386.8 52.4,401.7 59.9,414.2 54.9,424.1 64.9,431.6 54.9,439 62.4,446.5 57.4,458.9 50,466.4 45,463.9"/>
<path d="M42.5,425 50,422.5 62.4,437.4 57.4,452.3 50,467.3 45,459.8"/>
<path d="M129.6,684.6 139.5,679.6 149.5,682.1 164.4,674.6 179.3,669.7 189.3,672.1 185.5,679.6 179.3,682.1 181.8,694.5 174.3,699.5 161.9,704.5 156.9,716.9 147,724.4"/>
<path d="M175.6,719.4 183.1,707 190.5,699.5 191.8,690.8 196.7,689.6 194.2,699.5 188,712 183.1,724.4 184.3,735.6"/>
<path d="M189.3,714.4 194.2,709.5 201.7,709.5 203,719.4 207.9,724.4 211.7,734.3 214.2,741.8 217.9,734.3 214.2,726.9 219.1,716.9 224.1,707 234.1,709.5 246.5,716.9 258.9,721.9 261.4,712 268.9,707 281.3,703.2 293.8,703.2 306.2,700.8 316.2,703.2 323.6,709.5 332.3,710.7 337.3,704.5 351,694.5 360.9,689.6 365.9,697 375.9,704.5 370.9,712 375.9,715.7 385.8,712 395.8,719.4 400.7,729.4 398.3,744.3 390.8,751.8 383.3,759.2 370.9,766.7 360.9,769.2 353.5,774.2 356,779.1 365.9,776.6 373.4,771.7 383.3,761.7 393.3,761.7 388.3,771.7 398.3,776.6 413.2,774.2 423.1,779.1 428.1,789.1 443,791.6 450,784.1"/>
<path d="M336.1,624.9 346,614.9 360.9,612.4 359.7,624.9 357.2,637.3 360.9,649.8 370.9,657.2 372.1,669.7 363.4,679.6 353.5,674.6 346,662.2 338.5,644.8 334.8,632.3 336.1,624.9"/>
<path d="M144.5,716.9 156.9,726.9 149.5,729.4"/>
<path d="M420,784.1 430,786.6 444.9,789.1 447.4,779.1 457.3,775.4 469.8,781.6 482.2,789.1 484.7,806.5 492.1,818.9 499.6,826.4 505.8,814 507.1,802.8 514.5,809 524.5,801.5 539.4,796.5 551.9,796.5 549.4,786.6 543.1,781.6 546.9,774.2 559.3,769.2 579.2,764.2 594.2,760.5 604.1,764.2 614.1,771.7 626.5,774.2 634,766.7 643.9,759.2 656.3,751.8 668.8,749.3 676.2,755.5"/>
<path d="M513.3,716.9 519.5,712 529.5,716.9 532,709.5 549.4,712 544.4,719.4 536.9,729.4 529.5,739.3 519.5,740.6 513.3,731.9 512.1,721.9 513.3,716.9"/>
<path d="M555.6,712 576.7,707 579.2,715.7 566.8,718.2 555.6,712"/>
<path d="M541.9,751.8 549.4,749.3 558.1,755.5 551.9,761.7 543.1,759.2 541.9,751.8"/>
<path d="M739.7,637.3 743.4,629.9 753.4,628.6 752.1,642.3 748.4,652.2 742.2,651 739.7,637.3"/>
<path d="M778.3,317.1 785.7,309.7 793.2,324.6 789.4,332.1"/>
<path d="M814.8,412.3 812.9,432.1 809.2,449.3 806.1,469.1 800,486.3 793.8,502.4 796.3,519.6 805.6,539.4"/>
<path d="M687.4,287.3 691.2,302.2 706.1,327.1 718.5,319.6 743.4,309.7 753.4,294.7 743.4,284.8 718.5,283.5 693.7,281 687.4,287.3"/>
</g>
</g>
<circle cx="429.2" cy="460.7" r="382.8" fill="none" stroke="#fdfdfd" stroke-width="8.8"/>
<path d="M193.5,159 A382.8,382.8 0 0 1 393.2,79.6" fill="none" stroke="#d6d6d8" stroke-width="7.3"/>
<path d="M482.5,81.6 A382.8,382.8 0 0 1 738.9,235.7" fill="none" stroke="#d6d6d8" stroke-width="7.3"/>
<path d="M780.5,308.7 A382.8,382.8 0 0 1 789.4,331" fill="none" stroke="#d6d6d8" stroke-width="7.3"/>
<path d="M811.4,439.3 A382.8,382.8 0 0 1 803.5,540.9" fill="none" stroke="#d6d6d8" stroke-width="7.3"/>
<path d="M676.3,753.1 A382.8,382.8 0 0 1 152.9,725.7" fill="none" stroke="#d6d6d8" stroke-width="7.3"/>
<path d="M128.8,698 A382.8,382.8 0 0 1 121.1,687.9" fill="none" stroke="#d6d6d8" stroke-width="7.3"/>
<path d="M101.1,657.9 A382.8,382.8 0 0 1 91.2,640.4" fill="none" stroke="#d6d6d8" stroke-width="7.3"/>
<path d="M46.5,470.1 A382.8,382.8 0 0 1 54.2,383.7" fill="none" stroke="#d6d6d8" stroke-width="7.3"/>
<circle cx="429.2" cy="460.7" r="387.8" fill="none" stroke="#000" stroke-width="4.3"/>
<path d="M817,460.7 L812,460.7" stroke="#000" stroke-width="1"/>
<path d="M765,654.6 L760.7,652.1" stroke="#000" stroke-width="1"/>
<path d="M623.1,796.5 L620.6,792.2" stroke="#000" stroke-width="1"/>
<path d="M429.2,848.5 L429.2,843.5" stroke="#000" stroke-width="1"/>
<path d="M235.3,796.5 L237.8,792.2" stroke="#000" stroke-width="1"/>
<path d="M93.4,654.6 L97.7,652.1" stroke="#000" stroke-width="1"/>
<path d="M41.4,460.7 L46.4,460.7" stroke="#000" stroke-width="1"/>
<path d="M93.4,266.8 L97.7,269.3" stroke="#000" stroke-width="1"/>
<path d="M235.3,124.9 L237.8,129.2" stroke="#000" stroke-width="1"/>
<path d="M429.2,72.9 L429.2,77.9" stroke="#000" stroke-width="1"/>
<path d="M623.1,124.9 L620.6,129.2" stroke="#000" stroke-width="1"/>
<path d="M765,266.8 L760.7,269.3" stroke="#000" stroke-width="1"/>
<path d="M375.9,589.2 570.5,643.5 517,835.1 322.4,782.9Z" fill="none" stroke="#ee303c" stroke-width="3.8" stroke-linejoin="miter" transform="translate(0,0)"/>
<g font-size="19" fill="#000" text-anchor="middle">
<text x="227.8" y="562.4" transform="rotate(20 227.8 555.6)">1016</text>
<text x="104.7" y="457.8" transform="rotate(-67 104.7 451)">1014</text>
<text x="163.1" y="651.6" transform="rotate(39 163.1 644.8)">1014</text>
<text x="287.5" y="759.8" transform="rotate(21 287.5 753)">1012</text>
<text x="239" y="194.9" transform="rotate(68 239 188.1)">1016</text>
<text x="280" y="202.4" transform="rotate(76 280 195.6)">1020</text>
<text x="348.5" y="274.5" transform="rotate(8 348.5 267.7)">1018</text>
<text x="389.5" y="288.2" transform="rotate(-42 389.5 281.4)">1016</text>
<text x="434.3" y="284.5" transform="rotate(-74 434.3 277.7)">1014</text>
<text x="585.4" y="277" transform="rotate(-87 585.4 270.2)">1012</text>
<text x="640.2" y="394.8" transform="rotate(-50 640.2 388)">1012</text>
<text x="753.4" y="518.8" transform="rotate(-62 753.4 512)">1010</text>
</g>
<g transform="translate(696.2,566.8) rotate(-55)"><g transform="translate(-31,10) rotate(0)" fill="#fff" font-size="27.5"><text x="0" y="0">75</text><text x="29.6" y="-16.5" font-size="21.4">o</text><text x="40.5" y="0">N</text></g></g>
<text x="208.1" y="492.1" font-size="45" fill="#3a3a44">H</text>
<text x="550.8" y="606.6" font-size="46" fill="#fff">L</text>
<mask id="mkB" maskUnits="userSpaceOnUse" x="817" y="60.7" width="800" height="800"><rect x="817" y="60.7" width="800" height="800" fill="#fff"/><g fill="#000">
<rect x="1096.4" y="246.6" width="45.4" height="15" transform="rotate(15 1119.1 254.1)"/>
<rect x="1141.2" y="273.9" width="45.4" height="15" transform="rotate(-24 1163.9 281.4)"/>
<rect x="1018" y="421.6" width="45.4" height="15" transform="rotate(-19 1040.7 429.1)"/>
<rect x="1266.2" y="210.5" width="45.4" height="15" transform="rotate(-39 1288.9 218)"/>
<rect x="1417.9" y="194.3" width="45.4" height="15" transform="rotate(-53 1440.6 201.8)"/>
<rect x="1116.3" y="586.7" width="45.4" height="15" transform="rotate(52 1139 594.2)"/>
<rect x="938.1" y="631.1" width="56" height="15" transform="rotate(12 966.1 638.6)"/>
<rect x="1245" y="592.9" width="45.4" height="15" transform="rotate(-13 1267.7 600.4)"/>
<rect x="1510" y="568" width="45.4" height="15" transform="rotate(-43 1532.7 575.5)"/>
</g></mask>
<mask id="mgB" maskUnits="userSpaceOnUse" x="817" y="60.7" width="800" height="800"><rect x="817" y="60.7" width="800" height="800" fill="#fff"/><g fill="#000">
<rect x="905" y="518.7" width="66" height="24" transform="rotate(76 938 530.7)"/>
</g></mask>
<g clip-path="url(#clipB)">
<rect x="817" y="60.7" width="800" height="800" fill="#075b85"/>
<path d="M960,120 963.6,167 967.3,176.9 977.3,204.3 987.2,229.2 999.7,254.1 1012.1,276.4 1024.5,304.7 1044.4,334.5 1061.9,364.4 1069.3,389.3 1070.6,409.2 1064.3,419.1 1042,431.6 1017.1,439 1002.2,446.5 977.3,458.9 952.4,468.9 927.5,475.1 902.6,476.3 877.8,475.1 852.9,472.6 838,470.1 828,468.9 800,470 800,200Z" fill="#0000ff"/>
<path d="M910.1,704.5 920.1,694.5 922.5,674.6 923.8,649.8 935,642.3 944.9,637.3 967.3,634.8 992.2,632.3 1012.1,626.1 1032,627.4 1046.9,634.8 1061.9,647.3 1076.8,657.2 1086.7,667.2 1096.7,682.1 1104.2,694.5 1114.1,707 1124.1,716.9 1129,729.4 1141.5,736.8 1153.9,744.3 1168.8,751.8 1183.8,755.5 1201.2,750.5 1208,749.3 1222.9,761.7 1235.4,779.1 1250.3,796.5 1267.7,810.2 1282.6,812.7 1295.1,807.7 1312.5,809 1332.4,810.2 1346.1,816.4 1354.8,823.9 1300,900 1000,900 880,760Z" fill="#0000ff"/>
<path d="M1150,40 1154.9,83.7 1156.9,87 1167.6,94.4 1175.6,105 1179.6,118.4 1183.6,131.8 1189,142.4 1195.7,154.5 1203.7,166.5 1211.7,175.8 1221.1,183.8 1230.4,194.3 1245.3,191.9 1255.3,199.3 1260.2,209.3 1257.8,221.7 1265.2,234.2 1282.6,224.2 1305,214.2 1303.8,229.2 1302.5,249.1 1307.5,256.5 1320,251.6 1324.9,259 1332.4,261.5 1337.4,244.1 1344.8,231.7 1362.2,231.7 1382.2,231.7 1402.1,226.7 1419.5,223 1439.4,199.3 1456.8,176.9 1459.3,169.5 1464.2,159.5 1480,100 1300,40Z" fill="#0000ff"/>
<path d="M1533.9,672.1 1528.9,678.4 1506.5,694.5 1486.6,709.5 1469.2,726.9 1459.3,741.8 1444.3,761.7 1439.4,774.2 1531.4,774.2Z" fill="#0000ff"/>
<path d="M925,292.2 937.5,288.5 957.4,293.5 974.8,304.7 989.7,317.1 1007.1,332.1 1022.1,347 1029.5,366.9 1032,389.3 1027,399.2 1012.1,401.7 1002.2,395.5 987.2,399.2 967.3,399.2 947.4,401.7 932.5,405.4 917.6,396.7 905.1,384.3 897.7,364.4 898.9,344.5 902.6,324.6 910.1,309.7 920.1,297.2Z" fill="#3000c8"/>
<path d="M935,206.8 931.2,213 928.8,231.7 923.8,241.6 915.1,251.6 902.6,250.3 890.2,244.1 902.6,209.3Z" fill="#3000c8"/>
<path d="M1231.6,169.5 1242.8,152.1 1252.8,139.6 1267.7,135.9 1282.6,142.1 1287.6,152.1 1282.6,169.5 1277.7,176.9 1262.7,184.4 1245.3,176.9Z" fill="#3000c8"/>
<path d="M1295.1,82.4 1297.6,91.1 1301.3,107.3 1310,117.2 1311.2,134.6 1317.5,142.1 1312.5,159.5 1329.9,167 1332.4,179.4 1334.9,195.6 1342.3,186.9 1357.3,181.9 1369.7,186.9 1387.1,179.4 1407,174.4 1417,159.5 1426.9,145.8 1431.9,137.1 1382.2,79.9Z" fill="#3000c8"/>
<path d="M1333.6,92.3 1336.1,102.3 1338.6,119.7 1352.3,129.7 1357.3,142.1 1367.2,134.6 1377.2,122.2 1382.2,119.7 1389.6,114.7 1362.2,89.9Z" fill="#54007f"/>
<path d="M1166.3,846.3 1171.3,833.9 1181.3,821.4 1196.2,817.7 1211.1,821.4 1226.1,831.4 1208,818.9 1218,823.9 1230.4,833.9 1237.9,846.3Z" fill="#3000c8"/>
<path d="M838,529.5 845.4,534.4 857.9,538.2 865.3,549.4 870.3,564.3 865.3,579.2 860.3,589.2 852.9,599.1 828,569.3Z" fill="#0aa81c"/>
<path d="M1000,100 984.7,149.6 988.5,159.5 997.2,184.4 1009.6,214.2 1024.5,239.1 1039.5,259 1042,272.3 1056.9,289.8 1066.8,307.2 1076.8,324.6 1089.2,344.5 1101.7,361.9 1110.4,379.3 1111.6,399.2 1106.6,419.1 1099.2,439 1086.7,456.4 1059.4,467.3 1042,484.7 1029.5,504.6 1025.8,524.5 1032,544.4 1044.4,559.3 1064.3,574.2 1086.7,589.2 1104.2,604.1 1119.1,619 1126.5,626.5 1130.3,643.9 1129,644.8 1131.5,662.2 1139,674.6 1148.9,684.6 1161.4,689.6 1176.3,694.5 1191.2,699.5 1208,707 1222.9,710.7 1237.9,716.9 1252.8,729.4 1265.2,741.8 1280.1,754.2 1295.1,761.7 1312.5,766.7 1332.4,771.7 1352.3,774.2 1372.2,774.2 1387.1,771.7 1397.1,769.2 1417,749.3 1436.9,724.4 1456.8,699.5 1476.7,679.6 1496.6,662.2 1514,642.3 1531.4,626.5 1551.3,604.1 1566.3,581.7 1578.7,561.8 1583.7,554.3 1591.1,544.4 1640,500 1640,250 1516.5,211.8 1506.5,218 1481.7,229.2 1456.8,241.6 1431.9,251.6 1407,256.5 1387.1,264 1369.7,274 1357.3,283.9 1344.8,293.9 1342.3,297.2 1327.4,304.7 1307.5,305.9 1295.1,312.1 1282.6,312.1 1270.2,302.2 1267.7,297.2 1247.8,314.6 1250.3,287.3 1270.2,277.3 1272.7,259.9 1257.8,263.6 1240.3,262.4 1225.4,259.9 1226.7,256.5 1222.9,231.7 1226.4,214.6 1221.1,205.2 1214.4,195.9 1207.7,185.2 1199.7,175.8 1190.3,162.5 1182.3,149.1 1175.6,135.8 1171.6,122.4 1167.6,109 1158.3,97 1148.9,88.3 1146.2,83.7Z" fill="#0aa81c"/>
<path d="M1040,80 1010,137.1 1012,142.4 1018,159.8 1024.7,178.5 1031.4,194.5 1034,205.7 1038.1,216.4 1043.4,227.1 1050.1,237.7 1054.1,251.1 1059.4,257.8 1068.8,263.1 1078.1,272.5 1086.1,280.5 1095.5,288.5 1103.5,291.2 1107.5,297.9 1108.8,304.5 1109.1,314.6 1114.1,334.5 1124.1,344.5 1131.5,342 1135.3,332.1 1129,317.1 1134,314.6 1141.5,327.1 1148.9,339.5 1151.4,349.5 1136.5,349.5 1131.5,354.4 1139,364.4 1145.2,379.3 1146.4,394.2 1141.5,414.2 1131.5,434.1 1124.1,452.3 1106.6,472.2 1091.7,492.1 1086.7,512.1 1089.2,529.5 1099.2,544.4 1114.1,559.3 1126.5,569.3 1144,594.2 1158.9,619 1168.8,631.5 1178,646 1190,661 1207,670 1225.4,673.6 1245.3,679.6 1265.2,692.1 1282.6,704.5 1297.6,714.4 1310,724.4 1324.9,729.4 1347.3,726.9 1367.2,719.4 1382.2,707 1394.6,692.1 1404.5,677.1 1417,662.2 1436.9,647.3 1456.8,634.8 1479.2,622.4 1496.6,612.4 1509,600 1531.4,576.7 1553.8,551.9 1566.3,536.9 1571.7,514.5 1581.2,489.7 1586.2,467.3 1587.4,442.4 1586.2,420 1584.9,389.3 1584.9,370.6 1596.1,364.4 1640,380 1640,280 1566.3,291 1555.1,289.8 1531.4,286 1506.5,284.8 1481.7,281 1469.2,289.8 1456.8,298.5 1441.9,296 1426.9,297.2 1407,299.7 1382.2,304.7 1367.2,312.1 1347.3,322.1 1324.9,328.3 1302.5,330.8 1290.1,328.3 1275.2,333.3 1257.8,338.3 1242.8,332.1 1232.9,319.6 1226.7,299.7 1218,289.8 1218.6,278.9 1216.1,259 1213.6,239.1 1212.4,219.2 1208.6,201.8 1193.7,181.9 1181.3,164.5 1171.3,147.1 1163.9,129.7 1158.9,109.8 1148.9,88.6 1144,77.4Z" fill="#86da8a"/>
<path d="M1237.9,369.4C1242.3,367.9 1250.3,366.5 1257.8,365.6C1265.2,364.8 1275.2,364.8 1282.6,364.4C1290.1,364 1295.1,364.4 1302.5,363.1C1310,361.9 1319.1,359.2 1327.4,356.9C1335.7,354.6 1344,352 1352.3,349.5C1360.6,347 1369.7,344.1 1377.2,342C1384.6,339.9 1391.3,338.3 1397.1,337C1402.9,335.8 1407,334.3 1412,334.5C1417,334.7 1421.1,337.4 1426.9,338.3C1432.7,339.1 1439.4,339.9 1446.8,339.5C1454.3,339.1 1464.7,335.8 1471.7,335.8C1478.8,335.8 1483.3,338.3 1489.1,339.5C1494.9,340.8 1501.2,341.6 1506.5,343.2C1511.9,344.9 1517.3,347.2 1521.5,349.5C1525.6,351.7 1528.5,353.6 1531.4,356.9C1534.3,360.2 1536.8,364 1538.9,369.4C1541,374.8 1542.2,381.8 1543.9,389.3C1545.5,396.7 1547.4,405.9 1548.8,414.2C1550.3,422.4 1551.5,430.7 1552.6,439C1553.6,447.3 1554.4,456.7 1555.1,463.9C1555.7,471.1 1556.3,475.8 1556.3,482.2C1556.3,488.6 1556.3,495.9 1555.1,502.1C1553.8,508.3 1551.5,514.5 1548.8,519.5C1546.1,524.5 1542.6,528.2 1538.9,532C1535.2,535.7 1531.8,538.2 1526.4,541.9C1521.1,545.6 1512.8,551 1506.5,554.3C1500.3,557.7 1494.9,558.9 1489.1,561.8C1483.3,564.7 1477.9,568.4 1471.7,571.8C1465.5,575.1 1458.4,578.8 1451.8,581.7C1445.2,584.6 1438.5,586.3 1431.9,589.2C1425.3,592.1 1418.6,595.8 1412,599.1C1405.4,602.4 1398.7,605.8 1392.1,609.1C1385.5,612.4 1378,615.3 1372.2,619C1366.4,622.8 1362.2,627.7 1357.3,631.5C1352.3,635.2 1347.3,638.5 1342.3,641.4C1337.4,644.3 1332.4,647 1327.4,648.9C1322.4,650.7 1318.3,652.2 1312.5,652.6C1306.7,653 1299.2,652.2 1292.6,651.4C1286,650.5 1279.3,649.3 1272.7,647.6C1266.1,646 1262.2,644.1 1252.8,641.4C1243.4,638.7 1225.5,636 1216.1,631.5C1206.7,626.9 1202,619.4 1196.2,614.1C1190.4,608.7 1185.8,604.5 1181.3,599.1C1176.7,593.7 1173,587.5 1168.8,581.7C1164.7,575.9 1159.7,570.5 1156.4,564.3C1153.1,558.1 1150.8,551 1148.9,544.4C1147.1,537.8 1145.8,531.1 1145.2,524.5C1144.6,517.9 1144.2,511.2 1145.2,504.6C1146.2,498 1148.7,490.9 1151.4,484.7C1154.1,478.5 1157.6,473.1 1161.4,467.3C1165.1,461.5 1169.7,455.2 1173.8,449.9C1178,444.5 1182.5,439.9 1186.3,434.9C1190,430 1192.5,425.5 1196.2,420C1199.9,414.5 1204.9,407.2 1208.6,401.7C1212.4,396.2 1214.9,391.3 1218.6,386.8C1222.3,382.2 1227.8,377.2 1231,374.3C1234.2,371.4 1233.4,370.8 1237.9,369.4Z" fill="#ffffff"/>
<path d="M1240.3,436.5C1246.5,431.4 1254.9,428.2 1262.7,424.1C1270.6,420 1279.3,415.8 1287.6,411.7C1295.9,407.5 1304.2,403 1312.5,399.2C1320.8,395.5 1329.1,391.8 1337.4,389.3C1345.7,386.8 1354.8,385.5 1362.2,384.3C1369.7,383.1 1375.5,382.4 1382.2,381.8C1388.8,381.2 1395.8,380.4 1402.1,380.6C1408.3,380.8 1413.7,381.6 1419.5,383.1C1425.3,384.5 1430.7,387 1436.9,389.3C1443.1,391.6 1450.2,394 1456.8,396.7C1463.4,399.4 1471.3,401.7 1476.7,405.4C1482.1,409.2 1485.6,413.9 1489.1,419.1C1492.7,424.3 1495.8,430.7 1497.8,436.5C1499.9,442.3 1500.7,447.7 1501.6,454C1502.4,460.2 1502.8,468.3 1502.8,473.9C1502.8,479.4 1503,483.3 1501.6,487.2C1500.1,491 1496.6,494.2 1494.1,497.1C1491.6,500 1490.4,501.5 1486.6,504.6C1482.9,507.7 1477.5,512.5 1471.7,515.8C1465.9,519.1 1458.4,521.4 1451.8,524.5C1445.2,527.6 1438.1,531.1 1431.9,534.4C1425.7,537.8 1420.3,541.1 1414.5,544.4C1408.7,547.7 1403.3,551 1397.1,554.3C1390.9,557.7 1383.8,561.2 1377.2,564.3C1370.5,567.4 1364.7,570.1 1357.3,573C1349.8,575.9 1339.9,579 1332.4,581.7C1324.9,584.4 1318.7,587.1 1312.5,589.2C1306.3,591.2 1302.5,592.1 1295.1,594.2C1287.6,596.2 1277.2,601 1267.7,601.6C1258.2,602.2 1245.3,600.8 1237.9,597.9C1230.4,595 1227.1,589 1222.9,584.2C1218.8,579.4 1214.9,572.6 1213,569.3C1211,566 1212.7,568.4 1211.1,564.3C1209.6,560.1 1205.5,551 1203.7,544.4C1201.8,537.8 1200.4,531.1 1199.9,524.5C1199.5,517.9 1200.1,511.2 1201.2,504.6C1202.2,498 1203.7,490.9 1206.2,484.7C1208.6,478.5 1212.8,472.2 1216.1,467.3C1219.4,462.3 1222,460 1226.1,454.8C1230.1,449.7 1234.2,441.7 1240.3,436.5Z" fill="#ffff7a"/>
<path d="M1324.9,484.7 1329.9,472.2 1337.4,467.3 1349.8,466 1359.8,463.5 1362.2,466 1357.3,472.2 1347.3,477.2 1342.3,484.7 1337.4,489.7 1327.4,494.6Z" fill="#ffff00"/>
<path d="M1150,70 1030,126.4 1031.4,131.1 1036.7,143.8 1043.4,157.1 1047.4,165.1 1035.4,167.8 1030.7,173.2 1036.7,189.2 1046.1,205.7 1050.1,217.7 1058.1,228.4 1063.4,239.1 1070.1,251.1 1078.1,261.8 1086.1,267.1 1095.5,269.8 1106.2,276.5 1116.9,285.8 1124.9,292.5 1136.9,294.5 1148.9,296.5 1155.6,300.5 1160.9,305.9 1164.9,312.5 1170.3,314.6 1172.3,309.9 1173,301.9 1178.3,295.2 1183.6,285.8 1190.3,275.1 1197,261.8 1202.3,248.4 1206.4,235.1 1207.7,228.4 1202.3,219 1197,207 1193,205.2 1187.7,191.9 1182.3,178.5 1175.6,165.1 1169,151.8 1162.3,138.4 1155.6,123.7 1151.6,111.7 1143.6,101 1135.6,91 1132.9,85Z" fill="#ffffff"/>
<path d="M1130,75 1035.4,123.7 1036.7,127.7 1042.1,141.1 1047.4,154.5 1052.7,167.8 1054.1,175.8 1046.1,178.5 1043.4,186.5 1047.4,198.5 1058.1,209.7 1063.4,224.4 1068.8,235.1 1076.8,248.4 1084.8,257.8 1092.8,265.8 1103.5,269.8 1116.9,275.1 1127.5,280.5 1136.9,283.2 1156.9,285.8 1177,277.8 1187.7,267.1 1193,253.8 1195,239.1 1195.7,229.7 1189,216.4 1185,203 1181,195.9 1175.6,182.5 1169,169.2 1162.3,155.8 1155.6,142.4 1148.9,129.1 1142.2,115.7 1134.2,103.7 1126.2,93.7 1123.5,89Z" fill="#ffff7a"/>
<path d="M1110,80 1040.7,119.7 1042.1,124.4 1046.1,137.1 1050.1,149.1 1055.4,162.5 1056.8,175.8 1055.4,185.2 1060.8,198.5 1063.4,208.4 1068.8,221.7 1074.1,232.4 1079.5,241.8 1088.8,251.1 1100.8,257.8 1114.2,264.5 1127.5,269.8 1140.9,272.5 1154.3,273.8 1164.9,271.1 1174.3,265.8 1179.6,257.8 1182.3,245.8 1183.6,232.4 1181,219 1177,205.7 1171.6,198.5 1166.3,185.2 1159.6,171.8 1151.6,158.5 1144.9,145.1 1138.2,131.8 1130.2,118.4 1120.9,106.4 1111.5,97.7 1108.8,93Z" fill="#ffff00"/>
<path d="M1075,95 1050.1,114.4 1051.4,119.7 1050.1,131.8 1055.4,145.1 1059.4,159.8 1063.4,173.2 1064.8,185.2 1068.8,199.9 1068.8,205.7 1072.8,219 1078.1,229.7 1083.5,239.1 1090.1,245.1 1103.5,251.1 1123.5,256.4 1148.9,255.8 1156.9,253.8 1163.6,248.4 1167.6,237.7 1169,224.4 1167,211 1164.9,201.7 1159.6,194.5 1154.3,181.2 1146.2,167.8 1138.2,154.5 1130.2,141.1 1122.2,129.1 1111.5,118.4 1100.8,109 1090.1,104.4 1088.8,99.7Z" fill="#ffcc00"/>
<path d="M1060.1,131.8 1067.4,126.4 1076.8,124.4 1087.5,123.7 1098.2,125.7 1107.5,130.4 1115.5,138.4 1123.5,149.1 1130.2,161.1 1136.9,173.2 1142.2,185.2 1146.2,198.5 1146.9,207 1144.9,217.7 1140.9,228.4 1134.2,235.1 1124.9,237.7 1111.5,238.4 1098.2,237.7 1087.5,235.1 1082.1,228.4 1078.1,219 1072.8,208.4 1070.1,191.9 1067.4,178.5 1063.4,165.1 1060.8,154.5 1058.1,142.4Z" fill="#ffa200"/>
<path d="M1075.5,143.1 1084.8,146.4 1095.5,150.5 1106.2,155.8 1112.9,165.1 1118.2,175.8 1123.5,186.5 1124.9,198.5 1123.5,200.3 1120.9,208.4 1115.5,215 1106.2,219 1095.5,221.7 1086.1,213.7 1079.5,205.7 1078.1,198.5 1076.8,186.5 1075.5,175.8 1072.8,163.8 1070.8,153.1Z" fill="#ff5000"/>
<path d="M1096.8,191.9 1103.5,193.2 1100.8,197.2 1096.2,196.5Z" fill="#ee0040"/>
<g mask="url(#mkB)" fill="none" stroke="#000" stroke-width="1.8" stroke-linejoin="round">
<path d="M960,120 963.6,167 967.3,176.9 977.3,204.3 987.2,229.2 999.7,254.1 1012.1,276.4 1024.5,304.7 1044.4,334.5 1061.9,364.4 1069.3,389.3 1070.6,409.2 1064.3,419.1 1042,431.6 1017.1,439 1002.2,446.5 977.3,458.9 952.4,468.9 927.5,475.1 902.6,476.3 877.8,475.1 852.9,472.6 838,470.1 828,468.9 800,470 800,200Z"/>
<path d="M910.1,704.5 920.1,694.5 922.5,674.6 923.8,649.8 935,642.3 944.9,637.3 967.3,634.8 992.2,632.3 1012.1,626.1 1032,627.4 1046.9,634.8 1061.9,647.3 1076.8,657.2 1086.7,667.2 1096.7,682.1 1104.2,694.5 1114.1,707 1124.1,716.9 1129,729.4 1141.5,736.8 1153.9,744.3 1168.8,751.8 1183.8,755.5 1201.2,750.5 1208,749.3 1222.9,761.7 1235.4,779.1 1250.3,796.5 1267.7,810.2 1282.6,812.7 1295.1,807.7 1312.5,809 1332.4,810.2 1346.1,816.4 1354.8,823.9 1300,900 1000,900 880,760Z"/>
<path d="M1150,40 1154.9,83.7 1156.9,87 1167.6,94.4 1175.6,105 1179.6,118.4 1183.6,131.8 1189,142.4 1195.7,154.5 1203.7,166.5 1211.7,175.8 1221.1,183.8 1230.4,194.3 1245.3,191.9 1255.3,199.3 1260.2,209.3 1257.8,221.7 1265.2,234.2 1282.6,224.2 1305,214.2 1303.8,229.2 1302.5,249.1 1307.5,256.5 1320,251.6 1324.9,259 1332.4,261.5 1337.4,244.1 1344.8,231.7 1362.2,231.7 1382.2,231.7 1402.1,226.7 1419.5,223 1439.4,199.3 1456.8,176.9 1459.3,169.5 1464.2,159.5 1480,100 1300,40Z"/>
<path d="M1533.9,672.1 1528.9,678.4 1506.5,694.5 1486.6,709.5 1469.2,726.9 1459.3,741.8 1444.3,761.7 1439.4,774.2 1531.4,774.2Z"/>
<path d="M925,292.2 937.5,288.5 957.4,293.5 974.8,304.7 989.7,317.1 1007.1,332.1 1022.1,347 1029.5,366.9 1032,389.3 1027,399.2 1012.1,401.7 1002.2,395.5 987.2,399.2 967.3,399.2 947.4,401.7 932.5,405.4 917.6,396.7 905.1,384.3 897.7,364.4 898.9,344.5 902.6,324.6 910.1,309.7 920.1,297.2Z"/>
<path d="M935,206.8 931.2,213 928.8,231.7 923.8,241.6 915.1,251.6 902.6,250.3 890.2,244.1 902.6,209.3Z"/>
<path d="M1231.6,169.5 1242.8,152.1 1252.8,139.6 1267.7,135.9 1282.6,142.1 1287.6,152.1 1282.6,169.5 1277.7,176.9 1262.7,184.4 1245.3,176.9Z"/>
<path d="M1295.1,82.4 1297.6,91.1 1301.3,107.3 1310,117.2 1311.2,134.6 1317.5,142.1 1312.5,159.5 1329.9,167 1332.4,179.4 1334.9,195.6 1342.3,186.9 1357.3,181.9 1369.7,186.9 1387.1,179.4 1407,174.4 1417,159.5 1426.9,145.8 1431.9,137.1 1382.2,79.9Z"/>
<path d="M1333.6,92.3 1336.1,102.3 1338.6,119.7 1352.3,129.7 1357.3,142.1 1367.2,134.6 1377.2,122.2 1382.2,119.7 1389.6,114.7 1362.2,89.9Z"/>
<path d="M1166.3,846.3 1171.3,833.9 1181.3,821.4 1196.2,817.7 1211.1,821.4 1226.1,831.4 1208,818.9 1218,823.9 1230.4,833.9 1237.9,846.3Z"/>
<path d="M838,529.5 845.4,534.4 857.9,538.2 865.3,549.4 870.3,564.3 865.3,579.2 860.3,589.2 852.9,599.1 828,569.3Z"/>
<path d="M1000,100 984.7,149.6 988.5,159.5 997.2,184.4 1009.6,214.2 1024.5,239.1 1039.5,259 1042,272.3 1056.9,289.8 1066.8,307.2 1076.8,324.6 1089.2,344.5 1101.7,361.9 1110.4,379.3 1111.6,399.2 1106.6,419.1 1099.2,439 1086.7,456.4 1059.4,467.3 1042,484.7 1029.5,504.6 1025.8,524.5 1032,544.4 1044.4,559.3 1064.3,574.2 1086.7,589.2 1104.2,604.1 1119.1,619 1126.5,626.5 1130.3,643.9 1129,644.8 1131.5,662.2 1139,674.6 1148.9,684.6 1161.4,689.6 1176.3,694.5 1191.2,699.5 1208,707 1222.9,710.7 1237.9,716.9 1252.8,729.4 1265.2,741.8 1280.1,754.2 1295.1,761.7 1312.5,766.7 1332.4,771.7 1352.3,774.2 1372.2,774.2 1387.1,771.7 1397.1,769.2 1417,749.3 1436.9,724.4 1456.8,699.5 1476.7,679.6 1496.6,662.2 1514,642.3 1531.4,626.5 1551.3,604.1 1566.3,581.7 1578.7,561.8 1583.7,554.3 1591.1,544.4 1640,500 1640,250 1516.5,211.8 1506.5,218 1481.7,229.2 1456.8,241.6 1431.9,251.6 1407,256.5 1387.1,264 1369.7,274 1357.3,283.9 1344.8,293.9 1342.3,297.2 1327.4,304.7 1307.5,305.9 1295.1,312.1 1282.6,312.1 1270.2,302.2 1267.7,297.2 1247.8,314.6 1250.3,287.3 1270.2,277.3 1272.7,259.9 1257.8,263.6 1240.3,262.4 1225.4,259.9 1226.7,256.5 1222.9,231.7 1226.4,214.6 1221.1,205.2 1214.4,195.9 1207.7,185.2 1199.7,175.8 1190.3,162.5 1182.3,149.1 1175.6,135.8 1171.6,122.4 1167.6,109 1158.3,97 1148.9,88.3 1146.2,83.7Z"/>
<path d="M1040,80 1010,137.1 1012,142.4 1018,159.8 1024.7,178.5 1031.4,194.5 1034,205.7 1038.1,216.4 1043.4,227.1 1050.1,237.7 1054.1,251.1 1059.4,257.8 1068.8,263.1 1078.1,272.5 1086.1,280.5 1095.5,288.5 1103.5,291.2 1107.5,297.9 1108.8,304.5 1109.1,314.6 1114.1,334.5 1124.1,344.5 1131.5,342 1135.3,332.1 1129,317.1 1134,314.6 1141.5,327.1 1148.9,339.5 1151.4,349.5 1136.5,349.5 1131.5,354.4 1139,364.4 1145.2,379.3 1146.4,394.2 1141.5,414.2 1131.5,434.1 1124.1,452.3 1106.6,472.2 1091.7,492.1 1086.7,512.1 1089.2,529.5 1099.2,544.4 1114.1,559.3 1126.5,569.3 1144,594.2 1158.9,619 1168.8,631.5 1178,646 1190,661 1207,670 1225.4,673.6 1245.3,679.6 1265.2,692.1 1282.6,704.5 1297.6,714.4 1310,724.4 1324.9,729.4 1347.3,726.9 1367.2,719.4 1382.2,707 1394.6,692.1 1404.5,677.1 1417,662.2 1436.9,647.3 1456.8,634.8 1479.2,622.4 1496.6,612.4 1509,600 1531.4,576.7 1553.8,551.9 1566.3,536.9 1571.7,514.5 1581.2,489.7 1586.2,467.3 1587.4,442.4 1586.2,420 1584.9,389.3 1584.9,370.6 1596.1,364.4 1640,380 1640,280 1566.3,291 1555.1,289.8 1531.4,286 1506.5,284.8 1481.7,281 1469.2,289.8 1456.8,298.5 1441.9,296 1426.9,297.2 1407,299.7 1382.2,304.7 1367.2,312.1 1347.3,322.1 1324.9,328.3 1302.5,330.8 1290.1,328.3 1275.2,333.3 1257.8,338.3 1242.8,332.1 1232.9,319.6 1226.7,299.7 1218,289.8 1218.6,278.9 1216.1,259 1213.6,239.1 1212.4,219.2 1208.6,201.8 1193.7,181.9 1181.3,164.5 1171.3,147.1 1163.9,129.7 1158.9,109.8 1148.9,88.6 1144,77.4Z"/>
<path d="M1237.9,369.4C1242.3,367.9 1250.3,366.5 1257.8,365.6C1265.2,364.8 1275.2,364.8 1282.6,364.4C1290.1,364 1295.1,364.4 1302.5,363.1C1310,361.9 1319.1,359.2 1327.4,356.9C1335.7,354.6 1344,352 1352.3,349.5C1360.6,347 1369.7,344.1 1377.2,342C1384.6,339.9 1391.3,338.3 1397.1,337C1402.9,335.8 1407,334.3 1412,334.5C1417,334.7 1421.1,337.4 1426.9,338.3C1432.7,339.1 1439.4,339.9 1446.8,339.5C1454.3,339.1 1464.7,335.8 1471.7,335.8C1478.8,335.8 1483.3,338.3 1489.1,339.5C1494.9,340.8 1501.2,341.6 1506.5,343.2C1511.9,344.9 1517.3,347.2 1521.5,349.5C1525.6,351.7 1528.5,353.6 1531.4,356.9C1534.3,360.2 1536.8,364 1538.9,369.4C1541,374.8 1542.2,381.8 1543.9,389.3C1545.5,396.7 1547.4,405.9 1548.8,414.2C1550.3,422.4 1551.5,430.7 1552.6,439C1553.6,447.3 1554.4,456.7 1555.1,463.9C1555.7,471.1 1556.3,475.8 1556.3,482.2C1556.3,488.6 1556.3,495.9 1555.1,502.1C1553.8,508.3 1551.5,514.5 1548.8,519.5C1546.1,524.5 1542.6,528.2 1538.9,532C1535.2,535.7 1531.8,538.2 1526.4,541.9C1521.1,545.6 1512.8,551 1506.5,554.3C1500.3,557.7 1494.9,558.9 1489.1,561.8C1483.3,564.7 1477.9,568.4 1471.7,571.8C1465.5,575.1 1458.4,578.8 1451.8,581.7C1445.2,584.6 1438.5,586.3 1431.9,589.2C1425.3,592.1 1418.6,595.8 1412,599.1C1405.4,602.4 1398.7,605.8 1392.1,609.1C1385.5,612.4 1378,615.3 1372.2,619C1366.4,622.8 1362.2,627.7 1357.3,631.5C1352.3,635.2 1347.3,638.5 1342.3,641.4C1337.4,644.3 1332.4,647 1327.4,648.9C1322.4,650.7 1318.3,652.2 1312.5,652.6C1306.7,653 1299.2,652.2 1292.6,651.4C1286,650.5 1279.3,649.3 1272.7,647.6C1266.1,646 1262.2,644.1 1252.8,641.4C1243.4,638.7 1225.5,636 1216.1,631.5C1206.7,626.9 1202,619.4 1196.2,614.1C1190.4,608.7 1185.8,604.5 1181.3,599.1C1176.7,593.7 1173,587.5 1168.8,581.7C1164.7,575.9 1159.7,570.5 1156.4,564.3C1153.1,558.1 1150.8,551 1148.9,544.4C1147.1,537.8 1145.8,531.1 1145.2,524.5C1144.6,517.9 1144.2,511.2 1145.2,504.6C1146.2,498 1148.7,490.9 1151.4,484.7C1154.1,478.5 1157.6,473.1 1161.4,467.3C1165.1,461.5 1169.7,455.2 1173.8,449.9C1178,444.5 1182.5,439.9 1186.3,434.9C1190,430 1192.5,425.5 1196.2,420C1199.9,414.5 1204.9,407.2 1208.6,401.7C1212.4,396.2 1214.9,391.3 1218.6,386.8C1222.3,382.2 1227.8,377.2 1231,374.3C1234.2,371.4 1233.4,370.8 1237.9,369.4Z"/>
<path d="M1240.3,436.5C1246.5,431.4 1254.9,428.2 1262.7,424.1C1270.6,420 1279.3,415.8 1287.6,411.7C1295.9,407.5 1304.2,403 1312.5,399.2C1320.8,395.5 1329.1,391.8 1337.4,389.3C1345.7,386.8 1354.8,385.5 1362.2,384.3C1369.7,383.1 1375.5,382.4 1382.2,381.8C1388.8,381.2 1395.8,380.4 1402.1,380.6C1408.3,380.8 1413.7,381.6 1419.5,383.1C1425.3,384.5 1430.7,387 1436.9,389.3C1443.1,391.6 1450.2,394 1456.8,396.7C1463.4,399.4 1471.3,401.7 1476.7,405.4C1482.1,409.2 1485.6,413.9 1489.1,419.1C1492.7,424.3 1495.8,430.7 1497.8,436.5C1499.9,442.3 1500.7,447.7 1501.6,454C1502.4,460.2 1502.8,468.3 1502.8,473.9C1502.8,479.4 1503,483.3 1501.6,487.2C1500.1,491 1496.6,494.2 1494.1,497.1C1491.6,500 1490.4,501.5 1486.6,504.6C1482.9,507.7 1477.5,512.5 1471.7,515.8C1465.9,519.1 1458.4,521.4 1451.8,524.5C1445.2,527.6 1438.1,531.1 1431.9,534.4C1425.7,537.8 1420.3,541.1 1414.5,544.4C1408.7,547.7 1403.3,551 1397.1,554.3C1390.9,557.7 1383.8,561.2 1377.2,564.3C1370.5,567.4 1364.7,570.1 1357.3,573C1349.8,575.9 1339.9,579 1332.4,581.7C1324.9,584.4 1318.7,587.1 1312.5,589.2C1306.3,591.2 1302.5,592.1 1295.1,594.2C1287.6,596.2 1277.2,601 1267.7,601.6C1258.2,602.2 1245.3,600.8 1237.9,597.9C1230.4,595 1227.1,589 1222.9,584.2C1218.8,579.4 1214.9,572.6 1213,569.3C1211,566 1212.7,568.4 1211.1,564.3C1209.6,560.1 1205.5,551 1203.7,544.4C1201.8,537.8 1200.4,531.1 1199.9,524.5C1199.5,517.9 1200.1,511.2 1201.2,504.6C1202.2,498 1203.7,490.9 1206.2,484.7C1208.6,478.5 1212.8,472.2 1216.1,467.3C1219.4,462.3 1222,460 1226.1,454.8C1230.1,449.7 1234.2,441.7 1240.3,436.5Z"/>
<path d="M1324.9,484.7 1329.9,472.2 1337.4,467.3 1349.8,466 1359.8,463.5 1362.2,466 1357.3,472.2 1347.3,477.2 1342.3,484.7 1337.4,489.7 1327.4,494.6Z" stroke-width="1.3"/>
<path d="M1150,70 1030,126.4 1031.4,131.1 1036.7,143.8 1043.4,157.1 1047.4,165.1 1035.4,167.8 1030.7,173.2 1036.7,189.2 1046.1,205.7 1050.1,217.7 1058.1,228.4 1063.4,239.1 1070.1,251.1 1078.1,261.8 1086.1,267.1 1095.5,269.8 1106.2,276.5 1116.9,285.8 1124.9,292.5 1136.9,294.5 1148.9,296.5 1155.6,300.5 1160.9,305.9 1164.9,312.5 1170.3,314.6 1172.3,309.9 1173,301.9 1178.3,295.2 1183.6,285.8 1190.3,275.1 1197,261.8 1202.3,248.4 1206.4,235.1 1207.7,228.4 1202.3,219 1197,207 1193,205.2 1187.7,191.9 1182.3,178.5 1175.6,165.1 1169,151.8 1162.3,138.4 1155.6,123.7 1151.6,111.7 1143.6,101 1135.6,91 1132.9,85Z"/>
<path d="M1130,75 1035.4,123.7 1036.7,127.7 1042.1,141.1 1047.4,154.5 1052.7,167.8 1054.1,175.8 1046.1,178.5 1043.4,186.5 1047.4,198.5 1058.1,209.7 1063.4,224.4 1068.8,235.1 1076.8,248.4 1084.8,257.8 1092.8,265.8 1103.5,269.8 1116.9,275.1 1127.5,280.5 1136.9,283.2 1156.9,285.8 1177,277.8 1187.7,267.1 1193,253.8 1195,239.1 1195.7,229.7 1189,216.4 1185,203 1181,195.9 1175.6,182.5 1169,169.2 1162.3,155.8 1155.6,142.4 1148.9,129.1 1142.2,115.7 1134.2,103.7 1126.2,93.7 1123.5,89Z"/>
<path d="M1110,80 1040.7,119.7 1042.1,124.4 1046.1,137.1 1050.1,149.1 1055.4,162.5 1056.8,175.8 1055.4,185.2 1060.8,198.5 1063.4,208.4 1068.8,221.7 1074.1,232.4 1079.5,241.8 1088.8,251.1 1100.8,257.8 1114.2,264.5 1127.5,269.8 1140.9,272.5 1154.3,273.8 1164.9,271.1 1174.3,265.8 1179.6,257.8 1182.3,245.8 1183.6,232.4 1181,219 1177,205.7 1171.6,198.5 1166.3,185.2 1159.6,171.8 1151.6,158.5 1144.9,145.1 1138.2,131.8 1130.2,118.4 1120.9,106.4 1111.5,97.7 1108.8,93Z"/>
<path d="M1075,95 1050.1,114.4 1051.4,119.7 1050.1,131.8 1055.4,145.1 1059.4,159.8 1063.4,173.2 1064.8,185.2 1068.8,199.9 1068.8,205.7 1072.8,219 1078.1,229.7 1083.5,239.1 1090.1,245.1 1103.5,251.1 1123.5,256.4 1148.9,255.8 1156.9,253.8 1163.6,248.4 1167.6,237.7 1169,224.4 1167,211 1164.9,201.7 1159.6,194.5 1154.3,181.2 1146.2,167.8 1138.2,154.5 1130.2,141.1 1122.2,129.1 1111.5,118.4 1100.8,109 1090.1,104.4 1088.8,99.7Z"/>
<path d="M1060.1,131.8 1067.4,126.4 1076.8,124.4 1087.5,123.7 1098.2,125.7 1107.5,130.4 1115.5,138.4 1123.5,149.1 1130.2,161.1 1136.9,173.2 1142.2,185.2 1146.2,198.5 1146.9,207 1144.9,217.7 1140.9,228.4 1134.2,235.1 1124.9,237.7 1111.5,238.4 1098.2,237.7 1087.5,235.1 1082.1,228.4 1078.1,219 1072.8,208.4 1070.1,191.9 1067.4,178.5 1063.4,165.1 1060.8,154.5 1058.1,142.4Z"/>
<path d="M1075.5,143.1 1084.8,146.4 1095.5,150.5 1106.2,155.8 1112.9,165.1 1118.2,175.8 1123.5,186.5 1124.9,198.5 1123.5,200.3 1120.9,208.4 1115.5,215 1106.2,219 1095.5,221.7 1086.1,213.7 1079.5,205.7 1078.1,198.5 1076.8,186.5 1075.5,175.8 1072.8,163.8 1070.8,153.1Z"/>
<path d="M1096.8,191.9 1103.5,193.2 1100.8,197.2 1096.2,196.5Z" stroke-width="1.2"/>
</g>
<g mask="url(#mgB)" fill="none" stroke="#151515" stroke-width="1.35" stroke-dasharray="5.2 4.2">
<circle cx="1217" cy="460.7" r="290"/>
<path d="M1604.8,460.7 L1507,460.7"/>
<path d="M1552.8,654.6 L1217,460.7"/>
<path d="M1410.9,796.5 L1362,711.8"/>
<path d="M1217,848.5 L1217,750.7"/>
<path d="M1023.1,796.5 L1217,460.7"/>
<path d="M881.2,654.6 L965.9,605.7"/>
<path d="M829.2,460.7 L927,460.7"/>
<path d="M881.2,266.8 L1217,460.7"/>
<path d="M1023.1,124.9 L1072,209.6"/>
<path d="M1217,72.9 L1217,170.7"/>
<path d="M1410.9,124.9 L1217,460.7"/>
<path d="M1552.8,266.8 L1468.1,315.7"/>
</g>
<path d="M1213,460.7 h8 M1217,456.7 v8" stroke="#111" stroke-width="1" fill="none"/>
<g fill="none" stroke="#838386" stroke-width="3.1" stroke-linejoin="round" stroke-linecap="round" transform="translate(787.8,0)">
<path d="M213.9,137.4 217,147.9 209,154.7 219.5,158.4 218.8,165.8 210.8,163.5 196,162.7 199.7,170.7 207.1,179.3 217,184.3 229.3,189.2 228.1,199.1 231.8,204 225.6,213.8 231.8,221.2 236.7,218.8 234.3,228.6 241.7,237.3 238,244.7 246.6,249.6"/>
<path d="M196,162.7 192.3,167"/>
<path d="M246.5,247.5 251.5,248.7 263.9,254.9 267.6,263.6 260.2,271.1 271.4,279.8 282.6,294.7 291.3,312.1 298.7,332.1 305,348.2 313.7,349.5 321.1,345.7 322.4,335.8 328.6,319.6 331.1,332.1 328.6,338.3 337.3,335.8 338.5,344.5 351,334.5 342.3,349.5 346,354.4 363.4,356.9 380.8,349.5 388.3,343.2 392,334.5 395.8,322.1 408.2,312.1 420.6,308.4 428.1,312.1 434.3,307.2 438.1,292.2 448,286"/>
<path d="M393,354 398,356 394,360 393,354"/>
<path d="M393.3,75 392,90.3 374.6,91 372,80"/>
<path d="M374.6,91 382.6,98.4 380,99.7 373.3,93"/>
<path d="M390.6,101.7 398.7,101.7 402,111.7 402.7,122.4 404.7,131.8 405.3,143.8 410,149.1 411.1,160 418.5,172.3 421,181 430.8,189.6 440.7,193.9 453,193.3 460.4,190.2 469,199.5 468.4,205.6 475.2,214.3 465.4,219.2 471.5,227.2 470.3,230.9 478,230 480.4,237.4 475.5,243.6 460.7,248.5 449.6,252.2 444.7,260.8 445.9,268.2 454.5,270.7 449.6,279.3 448,286"/>
<path d="M517.1,211.8 507.3,218 508.5,227.8 502.3,232.7 500.1,238.6 489.1,239.9 485.4,248.5 484.1,255.9 478,263.3 466.9,267 460.7,275.6 453.3,285.5 444.7,295.4 438.5,304 432.3,310.1 432.3,315.1 437.9,318.2 442.2,324.9 452.1,328.6 464.4,331.1 478,332.3 485.4,328.6 498.9,324.9 498.9,321.9 505.1,323.7 512.5,318.8 515.6,311.4 515,304 511.2,300.3 500.1,297.2 490.3,295.4 480.4,293.5 489.1,291 503.8,288.6 510,292.9 513.7,289.2 512.5,281.8 517.4,265.8 527.3,263.3 535.9,259.6 531,252.2 538.4,253.4 542.1,243.6 550.7,241.1 555.6,236.2 556.9,230 552,222 545,215 535,212 524,210 517.1,211.8"/>
<path d="M518.6,273.2 528.5,267 539.6,262.1 548.2,267 549.5,276.9 543.3,285.5 539.6,294.1 538.4,302.7 531,308.9 524.8,313.8 521.1,320 518.6,316.3 519.9,304 516.2,296.6 517.4,286.7 514.9,279.3 518.6,273.2"/>
<path d="M555.6,258.4 561.8,254.7 572.9,269.5 564.3,268.2 555.6,258.4"/>
<path d="M559.3,278.1 565.5,273.2 572.9,281.8 563,288 560.6,291.7 559.3,278.1"/>
<path d="M549.5,304 553.8,311.4 547,313.8 549.5,304"/>
<path d="M481.2,78.7 487.4,88.6 493.6,99.7 499.7,109.5 509.6,115.7 515.8,120.6 512.1,124.3 513.3,134.2 519.5,135.4 520.7,144.1 522.5,153.9 520.7,161.3"/>
<path d="M548,232 553,238 560,246 566,250 571,258 570,266 566,272 570,280 575,290 578,300 583,306"/>
<path d="M533,184 528,190 526,198 530,205 532,212"/>
<path d="M511.6,134.1 521.5,135.8 523.1,142.4 519.8,152.2 524.8,162.1 536.3,167 542.9,163.8 546.1,172"/>
<path d="M526.4,142.4 536.3,139.1 547.8,142.4 552.7,137.4 549.4,147.3 544.5,157.2 546.1,167 554.4,170.3 567.5,165.4 577.4,155.5 582.3,145.7 580.7,139.1 577.4,147.3 570.8,158.8 560.9,165.4 551.1,167"/>
<path d="M547.8,94.7 551.1,98 564.2,101.2 584,107.8 597.1,114.4 603.7,127.6 607,144 605.4,155.5 597.1,168.7 587.3,176.9 574.1,183.5 564.2,180.2 554.4,175.3"/>
<path d="M628.4,130.9 626.7,142.4 628.4,155.5 626.7,167 618.5,176.9 610.3,181.8 600.4,183.5"/>
<path d="M656.3,150.6 653.1,158.8 646.5,163.8 636.6,168.7 630,175.3 625.1,185.1 623.4,195 628.4,201.6 621.8,211.4 618.5,218 626.7,221.3 638.2,223"/>
<path d="M587.3,191.7 597.1,185.1 610.3,181.8 618.5,178.6 618.5,188.4 613.6,199.9 610.3,206.5 597.1,204.9 590.6,198.3 587.3,191.7"/>
<path d="M636.6,176.9 646.5,178.6 656.3,178.6 656.3,188.4 653.1,201.6 654.7,209.8 646.5,218 636.6,223 626.7,219.7 618.5,214.7 623.4,206.5 630,199.9 626.7,191.7 631.7,183.5 636.6,176.9"/>
<path d="M574.1,229.5 580.7,223 584,213.1 580.7,204.9 569.2,198.3 560.9,191.7 554.4,188.4 547.8,191.7 541.2,183.5 531.3,185.1 524.8,193.4 526.4,201.6 536.3,208.2 544.5,211.4 554.4,214.7 560.9,221.3 562.6,229.5"/>
<path d="M679.4,168.7 684.3,178.6 687.6,190.1 685.9,201.6 679.4,206.5 674.4,214.7 669.5,223 661.3,226.2 646.5,227.9"/>
<path d="M521.5,211.4 531.3,218 539.6,219.7 542.9,224.6 551.1,229.5"/>
<path d="M587.3,229.5 590.6,218 593.8,214.7 598.8,223 600.4,229.5"/>
<path d="M443.4,288.8 448.3,277.3 458.2,269.1 469.7,264.1 481.2,260.9"/>
<path d="M445,262.5 450,252.6 463.1,249.3 476.3,246.1 477.9,237.8 471.3,232.9 469.7,224.7 464.8,219.7 471.3,214.8 469.7,206.6 476.3,200"/>
<path d="M486.1,249.3 487.8,242.8 496,237.8 504.2,231.2 509.2,224.7 520.7,216.4 527.3,214.8 533.8,219.7 543.7,221.4 553.6,224.7 561.8,229.6 565.1,224.7 560.2,216.4 550.3,211.5 540.4,209.9 532.2,204.9 527.3,200"/>
<path d="M519,315.1 520.7,308.6 527.3,311.8 524,318.4 519,315.1"/>
<path d="M514.1,285.5 520.7,277.3 527.3,270.7 537.1,265.8 547,264.1 550.3,272.4 547,282.2 540.4,288.8 538.8,298.7 540.4,305.3"/>
<path d="M517.4,272.4 514.1,285.5 510.8,295.4 500.9,288.8 491.1,290.5 481.2,293.8 491.1,293.8 500.9,295.4 510.8,298.7 515.8,305.3 514.1,315.1"/>
<path d="M556.9,259.2 561.8,255.9 570,265.8 571.7,270.7 563.4,269.1 556.9,259.2"/>
<path d="M558.5,278.9 563.4,274 570,277.3 565.1,285.5 560.2,288.8 558.5,278.9"/>
<path d="M563.4,231.2 566.7,241.1 575,246.1 578.2,255.9 581.5,249.3 579.9,239.5 573.3,236.2 570,229.6"/>
<path d="M591.4,252.6 594.7,246.1 601.3,237.8 609.5,234.5 614.4,241.1 612.8,249.3 619.4,254.3 614.4,257.6 602.9,257.6 594.7,262.5 591.4,252.6"/>
<path d="M586.5,229.6 591.4,218.1 596.3,214.8 599.6,223 594.7,231.2 586.5,229.6"/>
<path d="M691.7,219.7 685.2,228 672,234.5 657.2,239.5 652.3,232.9 658.8,228 668.7,223 675.3,213.2 681.9,204.9 685.2,200"/>
<path d="M568.4,295.4 573.3,285.5 579.9,292.1 584.8,298.7 583.2,306.9 576.6,313.5 570,308.6 567.6,300.3 568.4,295.4"/>
<path d="M594.7,293.8 602.9,282.2 606.2,287.2 599.6,293.8 594.7,293.8"/>
<path d="M607.9,272.4 614.4,277.3 622.7,269.1 632.5,262.5 639.1,260.9 647.3,269.1 657.2,274 667.1,277.3 670.4,285.5 667.1,295.4"/>
<path d="M624.3,292.1 634.2,293.8 635.8,287.2 640.8,280.6 645.7,285.5 644,295.4 642.4,306.9 645.7,313.5 668.7,308.6 670.4,302"/>
<path d="M598.8,313.5 604.6,310.2 607.9,321.7 602.9,325 598.8,313.5"/>
<path d="M607.9,310.2 614.4,306.9 622.7,311.8 619.4,320.1 611.1,318.4 607.9,310.2"/>
<path d="M611.1,325 619.4,323.4 622.7,326.6 617.7,329.9 611.1,325"/>
<path d="M629.2,326.6 634.2,321.7 644,318.4 652.3,318.4 652.3,326.6 668.7,323.4 670.4,336.5 673.6,339.8 668.7,346.4 660.5,341.4 652.3,339.8 637.5,331.6 630.9,329.9 629.2,326.6"/>
<path d="M655.6,316.8 668.7,313.5 668.7,318.4 658.8,320.1 655.6,316.8"/>
<path d="M550.3,305.3 551.9,310.2 548.6,313.5 550.3,305.3"/>
<path d="M174.2,402.2 184.9,396.4 196.4,394.8 205.4,395.6 208.7,403 211.2,395.6 220.2,393.2 230.9,393.6 242.4,396 240.8,407.1 235,412.1 241.6,415.4 238.3,420.3 234.2,422.8 224.4,421.1 217,427.7 204.6,432.6 198,434.3 193.1,440.8 184.9,430.2 187.4,422.8 198,427.7 212.8,424.4 209.6,418.6 198,414.5 186.5,408 174.2,402.2"/>
<path d="M234.2,422.8 229.3,424.4 224.4,426 223.5,431 221.1,437.6 226,445 234.2,450.7 240.8,451.5 245.7,439.2 244.9,429.3 239.1,424.4"/>
<path d="M247.7,517 252.7,508.3 260.2,512.1 258.9,519.5 261.4,524.5 251.5,525.7 247.7,517"/>
<path d="M257.7,534.4 260.2,533.2 261.4,536.9 257.7,534.4"/>
<path d="M268.9,533.2 276.3,534.4 273.9,541.9 268.9,533.2"/>
<path d="M280.1,536.9 287.5,535.7 288.8,541.9 282.6,544.4 280.1,536.9"/>
<path d="M263.9,544.4 271.4,543.1 272.6,549.4 265.2,550.6 263.9,544.4"/>
<path d="M273.9,551.9 280.1,549.4 282.6,555.6 276.3,558.1 273.9,551.9"/>
<path d="M285.1,554.3 292.5,555.6 290,560.6 285.1,559.3 285.1,554.3"/>
<path d="M96.3,634.8 91.3,624.1 88.9,609.3 94.6,594.5 104.5,589.6 112.7,592.9 124.2,588.8 135.8,592.9 142.3,587.1 153.8,589.6 168.6,585.5 178.5,591.2 190,592.9 199.9,597.8 206.5,606.1 214.7,611 222.9,610.2 231.1,615.9 229.5,624.1 219.6,625 206.5,619.2 195,612.6 181.8,609.3 165.4,608.5 147.3,607.7 129.2,606.9 116,611 106.1,617.6 99.6,625.8 97.9,634"/>
<path d="M91.3,643.9 97.9,645.5 96.3,655.4"/>
<path d="M47.5,386.8 52.4,401.7 59.9,414.2 54.9,424.1 64.9,431.6 54.9,439 62.4,446.5 57.4,458.9 50,466.4 45,463.9"/>
<path d="M42.5,425 50,422.5 62.4,437.4 57.4,452.3 50,467.3 45,459.8"/>
<path d="M129.6,684.6 139.5,679.6 149.5,682.1 164.4,674.6 179.3,669.7 189.3,672.1 185.5,679.6 179.3,682.1 181.8,694.5 174.3,699.5 161.9,704.5 156.9,716.9 147,724.4"/>
<path d="M175.6,719.4 183.1,707 190.5,699.5 191.8,690.8 196.7,689.6 194.2,699.5 188,712 183.1,724.4 184.3,735.6"/>
<path d="M189.3,714.4 194.2,709.5 201.7,709.5 203,719.4 207.9,724.4 211.7,734.3 214.2,741.8 217.9,734.3 214.2,726.9 219.1,716.9 224.1,707 234.1,709.5 246.5,716.9 258.9,721.9 261.4,712 268.9,707 281.3,703.2 293.8,703.2 306.2,700.8 316.2,703.2 323.6,709.5 332.3,710.7 337.3,704.5 351,694.5 360.9,689.6 365.9,697 375.9,704.5 370.9,712 375.9,715.7 385.8,712 395.8,719.4 400.7,729.4 398.3,744.3 390.8,751.8 383.3,759.2 370.9,766.7 360.9,769.2 353.5,774.2 356,779.1 365.9,776.6 373.4,771.7 383.3,761.7 393.3,761.7 388.3,771.7 398.3,776.6 413.2,774.2 423.1,779.1 428.1,789.1 443,791.6 450,784.1"/>
<path d="M336.1,624.9 346,614.9 360.9,612.4 359.7,624.9 357.2,637.3 360.9,649.8 370.9,657.2 372.1,669.7 363.4,679.6 353.5,674.6 346,662.2 338.5,644.8 334.8,632.3 336.1,624.9"/>
<path d="M144.5,716.9 156.9,726.9 149.5,729.4"/>
<path d="M420,784.1 430,786.6 444.9,789.1 447.4,779.1 457.3,775.4 469.8,781.6 482.2,789.1 484.7,806.5 492.1,818.9 499.6,826.4 505.8,814 507.1,802.8 514.5,809 524.5,801.5 539.4,796.5 551.9,796.5 549.4,786.6 543.1,781.6 546.9,774.2 559.3,769.2 579.2,764.2 594.2,760.5 604.1,764.2 614.1,771.7 626.5,774.2 634,766.7 643.9,759.2 656.3,751.8 668.8,749.3 676.2,755.5"/>
<path d="M513.3,716.9 519.5,712 529.5,716.9 532,709.5 549.4,712 544.4,719.4 536.9,729.4 529.5,739.3 519.5,740.6 513.3,731.9 512.1,721.9 513.3,716.9"/>
<path d="M555.6,712 576.7,707 579.2,715.7 566.8,718.2 555.6,712"/>
<path d="M541.9,751.8 549.4,749.3 558.1,755.5 551.9,761.7 543.1,759.2 541.9,751.8"/>
<path d="M739.7,637.3 743.4,629.9 753.4,628.6 752.1,642.3 748.4,652.2 742.2,651 739.7,637.3"/>
<path d="M778.3,317.1 785.7,309.7 793.2,324.6 789.4,332.1"/>
<path d="M814.8,412.3 812.9,432.1 809.2,449.3 806.1,469.1 800,486.3 793.8,502.4 796.3,519.6 805.6,539.4"/>
<path d="M687.4,287.3 691.2,302.2 706.1,327.1 718.5,319.6 743.4,309.7 753.4,294.7 743.4,284.8 718.5,283.5 693.7,281 687.4,287.3"/>
</g>
</g>
<circle cx="1217" cy="460.7" r="382.8" fill="none" stroke="#fdfdfd" stroke-width="8.8"/>
<path d="M981.3,159 A382.8,382.8 0 0 1 1181,79.6" fill="none" stroke="#d6d6d8" stroke-width="7.3"/>
<path d="M1270.3,81.6 A382.8,382.8 0 0 1 1526.7,235.7" fill="none" stroke="#d6d6d8" stroke-width="7.3"/>
<path d="M1568.3,308.7 A382.8,382.8 0 0 1 1577.2,331" fill="none" stroke="#d6d6d8" stroke-width="7.3"/>
<path d="M1599.2,439.3 A382.8,382.8 0 0 1 1591.3,540.9" fill="none" stroke="#d6d6d8" stroke-width="7.3"/>
<path d="M1464.1,753.1 A382.8,382.8 0 0 1 940.7,725.7" fill="none" stroke="#d6d6d8" stroke-width="7.3"/>
<path d="M916.6,698 A382.8,382.8 0 0 1 908.9,687.9" fill="none" stroke="#d6d6d8" stroke-width="7.3"/>
<path d="M888.9,657.9 A382.8,382.8 0 0 1 879,640.4" fill="none" stroke="#d6d6d8" stroke-width="7.3"/>
<path d="M834.3,470.1 A382.8,382.8 0 0 1 842,383.7" fill="none" stroke="#d6d6d8" stroke-width="7.3"/>
<circle cx="1217" cy="460.7" r="387.8" fill="none" stroke="#000" stroke-width="4.3"/>
<path d="M1604.8,460.7 L1599.8,460.7" stroke="#000" stroke-width="1"/>
<path d="M1552.8,654.6 L1548.5,652.1" stroke="#000" stroke-width="1"/>
<path d="M1410.9,796.5 L1408.4,792.2" stroke="#000" stroke-width="1"/>
<path d="M1217,848.5 L1217,843.5" stroke="#000" stroke-width="1"/>
<path d="M1023.1,796.5 L1025.6,792.2" stroke="#000" stroke-width="1"/>
<path d="M881.2,654.6 L885.5,652.1" stroke="#000" stroke-width="1"/>
<path d="M829.2,460.7 L834.2,460.7" stroke="#000" stroke-width="1"/>
<path d="M881.2,266.8 L885.5,269.3" stroke="#000" stroke-width="1"/>
<path d="M1023.1,124.9 L1025.6,129.2" stroke="#000" stroke-width="1"/>
<path d="M1217,72.9 L1217,77.9" stroke="#000" stroke-width="1"/>
<path d="M1410.9,124.9 L1408.4,129.2" stroke="#000" stroke-width="1"/>
<path d="M1552.8,266.8 L1548.5,269.3" stroke="#000" stroke-width="1"/>
<path d="M375.9,589.2 570.5,643.5 517,835.1 322.4,782.9Z" fill="none" stroke="#ee303c" stroke-width="3.8" stroke-linejoin="miter" transform="translate(787.8,0)"/>
<g font-size="19" fill="#000" text-anchor="middle">
<text x="1119.1" y="260.9" transform="rotate(15 1119.1 254.1)">1016</text>
<text x="1163.9" y="288.2" transform="rotate(-24 1163.9 281.4)">1014</text>
<text x="1040.7" y="435.9" transform="rotate(-19 1040.7 429.1)">1010</text>
<text x="1288.9" y="224.8" transform="rotate(-39 1288.9 218)">1010</text>
<text x="1440.6" y="208.6" transform="rotate(-53 1440.6 201.8)">1010</text>
<text x="1139" y="601" transform="rotate(52 1139 594.2)">1012</text>
<text x="966.1" y="645.4" transform="rotate(12 966.1 638.6)">1010.</text>
<text x="1267.7" y="607.2" transform="rotate(-13 1267.7 600.4)">1014</text>
<text x="1532.7" y="582.3" transform="rotate(-43 1532.7 575.5)">1012</text>
</g>
<g transform="translate(938,530.7) rotate(76)"><g transform="translate(-31,10) rotate(0)" fill="#fff" font-size="27.5"><text x="0" y="0">75</text><text x="29.6" y="-16.5" font-size="21.4">o</text><text x="40.5" y="0">N</text></g></g>
<text x="937.7" y="369.4" font-size="46" fill="#fff">L</text>
<text x="1332.5" y="508.3" font-size="45" fill="#3a3a44">H</text>
<text x="1.3" y="25.9" font-size="35" font-weight="bold" fill="#000">A</text>
<text x="898.8" y="25.9" font-size="35" font-weight="bold" fill="#000">B</text>
<text x="433.3" y="29.6" font-size="38.6" text-anchor="middle" fill="#3c3c3c">July-September 1998</text>
<text x="1214" y="33.5" font-size="38.6" text-anchor="middle" fill="#3c3c3c">July-September 1999</text>
<g transform="translate(395.5,63.5) rotate(0)" fill="#333" font-size="28.6"><text x="0" y="0">60</text><text x="30.8" y="-17.7" font-size="22.3">o</text><text x="43.2" y="0">W</text></g>
<g transform="translate(1180,66.6) rotate(0)" fill="#333" font-size="28.6"><text x="0" y="0">60</text><text x="30.8" y="-17.7" font-size="22.3">o</text><text x="44.2" y="0">W</text></g>
<g transform="translate(59.8,272) rotate(0)" fill="#333" font-size="28.6"><text x="0" y="0">0</text><text x="14.9" y="-13.6" font-size="22.9">o</text></g>
<g transform="translate(846.3,268) rotate(0)" fill="#333" font-size="28.6"><text x="0" y="0">0</text><text x="14.9" y="-13.6" font-size="22.9">o</text></g>
<g transform="translate(32.4,488) rotate(-90)" fill="#333" font-size="28.6"><text x="0" y="0">30</text><text x="30.8" y="-17.7" font-size="22.3">o</text><text x="38.2" y="0">E</text></g>
<g transform="translate(384.5,884.5) rotate(0)" fill="#333" font-size="28.6"><text x="0" y="0">120</text><text x="46.7" y="-18.9" font-size="22.3">o</text><text x="59.6" y="0">E</text></g>
<g transform="translate(1180.2,882.5) rotate(0)" fill="#333" font-size="28.6"><text x="0" y="0">120</text><text x="46.7" y="-18.9" font-size="22.3">o</text><text x="59.6" y="0">E</text></g>
<g transform="translate(1614.8,413.5) rotate(90)" fill="#333" font-size="29"><text x="0" y="0">150</text><text x="47.4" y="-18" font-size="22.6">o</text><text x="60.9" y="0">W</text></g>
<g>
<rect x="359.7" y="909.8" width="58.4" height="28.8" fill="#54007f"/>
<rect x="417.8" y="909.8" width="58.4" height="28.8" fill="#3000c8"/>
<rect x="475.9" y="909.8" width="58.4" height="28.8" fill="#0000ff"/>
<rect x="534" y="909.8" width="58.4" height="28.8" fill="#075b85"/>
<rect x="592.1" y="909.8" width="58.4" height="28.8" fill="#0aa81c"/>
<rect x="650.2" y="909.8" width="58.4" height="28.8" fill="#86da8a"/>
<rect x="708.3" y="909.8" width="58.4" height="28.8" fill="#ffffff"/>
<rect x="766.4" y="909.8" width="58.4" height="28.8" fill="#ffff80"/>
<rect x="824.5" y="909.8" width="58.4" height="28.8" fill="#ffff00"/>
<rect x="882.7" y="909.8" width="58.4" height="28.8" fill="#ffd000"/>
<rect x="940.8" y="909.8" width="58.4" height="28.8" fill="#ffa200"/>
<rect x="998.9" y="909.8" width="58.4" height="28.8" fill="#ff5000"/>
<rect x="1057" y="909.8" width="58.4" height="28.8" fill="#ff0000"/>
<rect x="1115.1" y="909.8" width="58.4" height="28.8" fill="#ee2e5e"/>
<rect x="1173.2" y="909.8" width="58.4" height="28.8" fill="#a35d83"/>
<rect x="1231.3" y="909.8" width="58.4" height="28.8" fill="#87468a"/>
<path d="M417.8,909.8 V938.6" stroke="#3a3a44" stroke-width="1.6"/>
<path d="M475.9,909.8 V938.6" stroke="#3a3a44" stroke-width="1.6"/>
<path d="M534,909.8 V938.6" stroke="#3a3a44" stroke-width="1.6"/>
<path d="M592.1,909.8 V938.6" stroke="#3a3a44" stroke-width="1.6"/>
<path d="M650.2,909.8 V938.6" stroke="#3a3a44" stroke-width="1.6"/>
<path d="M708.3,909.8 V938.6" stroke="#3a3a44" stroke-width="1.6"/>
<path d="M766.4,909.8 V938.6" stroke="#3a3a44" stroke-width="1.6"/>
<path d="M824.5,909.8 V938.6" stroke="#3a3a44" stroke-width="1.6"/>
<path d="M882.7,909.8 V938.6" stroke="#3a3a44" stroke-width="1.6"/>
<path d="M940.8,909.8 V938.6" stroke="#3a3a44" stroke-width="1.6"/>
<path d="M998.9,909.8 V938.6" stroke="#3a3a44" stroke-width="1.6"/>
<path d="M1057,909.8 V938.6" stroke="#3a3a44" stroke-width="1.6"/>
<path d="M1115.1,909.8 V938.6" stroke="#3a3a44" stroke-width="1.6"/>
<path d="M1173.2,909.8 V938.6" stroke="#3a3a44" stroke-width="1.6"/>
<path d="M1231.3,909.8 V938.6" stroke="#3a3a44" stroke-width="1.6"/>
<rect x="359.7" y="909.8" width="929.7" height="28.8" fill="none" stroke="#3a3a44" stroke-width="2.4"/>
<text x="411.2" y="968.3" font-size="28.5" text-anchor="middle" fill="#333">1008</text>
<text x="533" y="968.3" font-size="28.5" text-anchor="middle" fill="#333">1010</text>
<text x="650" y="968.3" font-size="28.5" text-anchor="middle" fill="#333">1012</text>
<text x="764.2" y="968.3" font-size="28.5" text-anchor="middle" fill="#333">1014</text>
<text x="885.8" y="968.3" font-size="28.5" text-anchor="middle" fill="#333">1016</text>
<text x="996.1" y="968.3" font-size="28.5" text-anchor="middle" fill="#333">1018</text>
<text x="1111.2" y="968.3" font-size="28.5" text-anchor="middle" fill="#333">1020</text>
<text x="1232.4" y="968.3" font-size="28.5" text-anchor="middle" fill="#333">1022</text>
<text x="1314.8" y="937.6" font-size="34.5" fill="#333">mb</text>
</g>
</svg></body></html>
